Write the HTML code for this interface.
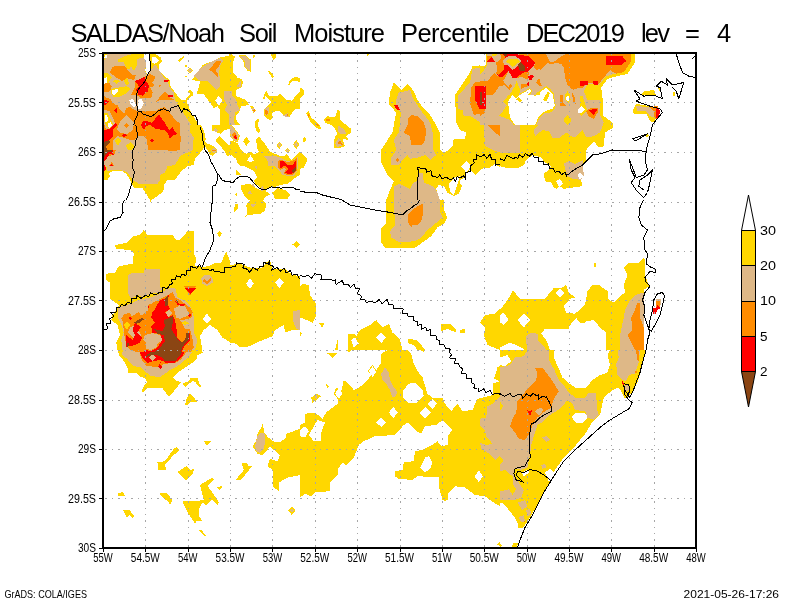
<!DOCTYPE html>
<html><head><meta charset="utf-8"><title>SALDAS/Noah Soil Moisture Percentile</title>
<style>html,body{margin:0;padding:0;background:#fff;overflow:hidden}body{width:800px;height:600px;position:relative;font-family:"Liberation Sans",sans-serif}</style></head>
<body>
<svg width="800" height="600" viewBox="0 0 800 600" style="position:absolute;left:0;top:0;will-change:transform">
<rect width="800" height="600" fill="#fff"/>
<defs><clipPath id="pc"><rect x="103" y="53" width="593" height="495"/></clipPath></defs>
<g clip-path="url(#pc)" shape-rendering="crispEdges">
<clipPath id="c0"><rect x="100" y="50" width="100" height="75"/></clipPath>
<g clip-path="url(#c0)">
</g>
<clipPath id="c1"><rect x="100" y="125" width="100" height="75"/></clipPath>
<g clip-path="url(#c1)">
</g>
<clipPath id="c2"><rect x="200" y="125" width="100" height="75"/></clipPath>
<g clip-path="url(#c2)">
</g>
<clipPath id="c3"><rect x="300" y="50" width="200" height="150"/></clipPath>
<g clip-path="url(#c3)">
</g>
<clipPath id="c4"><rect x="500" y="50" width="200" height="150"/></clipPath>
<g clip-path="url(#c4)">
</g>
<clipPath id="c5"><rect x="100" y="200" width="200" height="150"/></clipPath>
<g clip-path="url(#c5)">
</g>
<clipPath id="c6"><rect x="300" y="200" width="200" height="150"/></clipPath>
<g clip-path="url(#c6)">
</g>
<clipPath id="c7"><rect x="500" y="200" width="200" height="150"/></clipPath>
<g clip-path="url(#c7)">
</g>
<clipPath id="c8"><rect x="300" y="350" width="200" height="150"/></clipPath>
<g clip-path="url(#c8)">
</g>
<clipPath id="c9"><rect x="500" y="350" width="200" height="150"/></clipPath>
<g clip-path="url(#c9)">
</g>
<clipPath id="c10"><rect x="500" y="500" width="200" height="50"/></clipPath>
<g clip-path="url(#c10)">
</g>
<clipPath id="c11"><rect x="100" y="50" width="100" height="75"/></clipPath>
<g clip-path="url(#c11)">
<polygon fill="#ffd700" points="103.8,52.5 144.4,52.5 144.0,57.5 146.5,63.8 145.2,70.6 147.2,74.4 150.2,70.0 151.5,63.8 149.6,57.5 150.0,52.5 155.0,53.8 160.6,57.5 161.9,61.2 158.5,64.8 159.0,70.0 165.0,76.9 169.6,79.6 170.6,86.2 175.0,92.5 181.2,100.0 187.5,100.0 192.5,95.6 193.5,92.8 189.8,89.8 187.5,91.9 190.2,94.0 186.2,98.5 187.5,103.8 191.2,112.5 198.8,125.0 103.8,125.0"/>
<polygon fill="#ffffff" points="151.5,57.5 155.0,56.9 158.8,60.6 155.0,63.8 151.9,62.5"/>
<polygon fill="#deb887" points="107.5,53.8 133.1,53.8 143.8,57.5 146.2,63.8 145.0,71.2 147.2,75.0 150.6,70.6 155.0,63.8 165.0,78.8 168.1,80.0 168.8,86.2 173.8,92.5 175.0,100.0 181.2,110.0 191.2,125.0 103.8,125.0 103.8,61.2"/>
<polygon fill="#ffd700" points="133.1,53.8 143.8,53.8 143.4,57.5 137.5,59.0 136.5,66.2 134.0,71.2 131.2,66.2 129.4,68.8 126.5,68.8 124.0,62.5 118.8,62.1 117.2,60.0 125.0,56.2"/>
<polygon fill="#ffd700" points="103.8,72.5 107.5,73.1 111.9,76.9 108.8,82.5 103.8,85.0"/>
<polygon fill="#ffd700" points="113.1,81.2 116.2,79.4 120.0,81.2 116.2,83.8"/>
<polygon fill="#ffd700" points="123.8,81.2 126.9,78.1 129.4,83.8 126.9,85.6"/>
<polygon fill="#ffd700" points="111.2,88.8 118.8,87.5 126.9,86.2 130.6,88.8 126.9,93.1 118.8,96.9 113.8,97.5 110.6,92.5"/>
<polygon fill="#ffffff" points="111.9,90.0 117.5,89.0 118.8,91.2 114.4,95.6 112.5,93.8"/>
<polygon fill="#ffffff" points="104.4,78.1 106.9,76.9 106.9,82.5 104.4,83.8"/>
<polygon fill="#ffffff" points="104.4,57.5 105.6,55.0 107.5,55.6 106.2,58.8"/>
<polygon fill="#ff8c00" points="115.0,65.6 125.0,66.2 131.2,74.4 136.2,75.0 133.8,80.0 126.9,78.1 122.5,81.2 116.2,77.5 110.0,72.5 111.9,67.5"/>
<polygon fill="#ff8c00" points="150.0,73.8 155.6,76.9 152.5,82.5 154.4,86.2 150.0,87.5 152.5,92.5 151.2,98.1 141.2,98.1 137.5,95.6 131.2,95.0 135.0,87.5 135.0,81.2 144.4,76.9"/>
<polygon fill="#ff8c00" points="103.8,83.8 108.8,82.5 111.9,86.2 110.0,91.2 103.8,92.5"/>
<polygon fill="#ff8c00" points="103.8,97.5 110.0,98.8 116.2,106.2 117.5,115.0 125.0,116.2 128.8,110.0 135.0,108.8 137.5,115.0 133.8,125.0 103.8,125.0"/>
<polygon fill="#deb887" points="103.8,105.0 110.0,106.2 113.8,115.0 112.5,125.0 108.8,125.0 107.5,117.5 103.8,115.0"/>
<polygon fill="#ffd700" points="103.8,115.0 107.5,117.5 108.8,125.0 103.8,125.0"/>
<polygon fill="#ffffff" points="104.4,116.9 106.2,118.1 106.9,123.8 104.4,123.8"/>
<polygon fill="#ff8c00" points="158.8,85.0 161.2,85.6 158.8,86.9"/>
<polygon fill="#ff8c00" points="155.0,102.5 165.0,91.2 170.0,97.5 175.0,100.0 160.0,100.0"/>
<polygon fill="#deb887" points="126.9,98.8 136.2,98.8 143.8,105.0 137.5,111.2 132.5,108.8 128.8,106.2"/>
<polygon fill="#ffffff" points="129.4,100.0 132.5,98.8 136.2,105.0 133.8,107.5 130.0,103.8"/>
<polygon fill="#ffffff" points="137.5,100.0 141.2,98.8 143.8,103.8 140.6,109.4 138.1,108.8"/>
<polygon fill="#ff0000" points="135.0,81.2 144.4,76.9 145.6,80.6 148.8,85.0 148.1,91.2 142.5,95.6 138.1,95.0 137.5,91.2 135.6,90.0 138.8,86.2"/>
<polygon fill="#ff0000" points="163.8,80.0 169.4,80.6 168.1,81.9 164.4,81.9"/>
<polygon fill="#ff0000" points="167.5,95.0 173.8,95.6 173.1,96.9 168.1,96.5"/>
<polygon fill="#ff0000" points="103.8,100.0 108.8,100.0 106.9,104.4 103.8,105.0"/>
<polygon fill="#ff0000" points="113.8,110.0 116.2,106.9 116.9,112.5"/>
<polygon fill="#ff8c00" points="137.5,115.0 141.2,111.2 155.0,111.2 165.0,108.8 170.0,116.2 175.0,125.0 133.8,125.0"/>
<polygon fill="#ff0000" points="142.5,121.2 155.0,120.0 158.8,113.8 162.5,117.5 165.0,125.0 141.2,125.0"/>
<polygon fill="#ffd700" points="178.1,60.6 183.1,56.2 185.0,56.9 180.0,61.9"/>
<polygon fill="#ffd700" points="184.4,66.0 186.0,64.8 187.5,66.0 186.0,67.5"/>
<polygon fill="#ffd700" points="186.9,70.6 190.0,68.1 193.1,70.6 190.0,73.8"/>
<polygon fill="#deb887" points="188.1,70.6 190.0,69.0 191.9,70.6 190.0,72.5"/>
<polygon fill="#ffd700" points="185.0,76.2 186.9,76.0 186.2,77.2"/>
</g>
<clipPath id="c12"><rect x="150" y="50" width="150" height="75"/></clipPath>
<g clip-path="url(#c12)">
<polygon fill="#ffd700" points="191.2,80.0 195.0,76.9 202.5,65.0 212.5,61.2 220.0,57.5 228.8,55.6 229.4,53.8 231.2,53.8 235.0,56.9 232.8,62.5 232.8,72.5 237.5,77.5 241.2,78.8 243.1,82.5 241.2,87.5 236.2,90.0 236.2,96.2 246.2,100.0 249.0,105.0 241.2,106.2 239.0,112.5 236.2,115.0 236.2,120.0 240.0,125.0 220.0,125.0 220.0,110.0 217.5,106.2 212.5,108.8 212.5,106.2 203.8,94.4 196.2,94.4 198.8,87.5 200.0,81.2"/>
<polygon fill="#ffffff" points="215.0,100.6 218.8,95.6 222.5,100.6 218.8,105.6"/>
<polygon fill="#deb887" points="193.8,76.2 200.0,68.8 207.5,63.8 215.0,60.0 220.0,58.1 223.1,60.6 220.0,66.2 218.8,75.0 220.0,76.9 220.0,86.2 216.2,90.0 207.5,81.2 200.0,80.6"/>
<polygon fill="#ff8c00" points="208.8,70.0 216.2,61.2 221.2,61.2 218.8,66.2 215.6,70.6 218.8,75.0 217.5,76.9 212.5,71.9"/>
<polygon fill="#deb887" points="236.2,86.2 241.2,80.6 241.2,86.2 238.8,87.5"/>
<polygon fill="#deb887" points="224.4,91.2 231.9,91.2 232.5,96.2 236.2,100.0 237.5,105.0 240.0,110.0 235.0,112.5 233.8,120.0 235.0,125.0 229.4,125.0 229.4,115.0 224.4,110.0 226.9,105.0 224.4,100.0"/>
<polygon fill="#ffd700" points="237.5,55.6 245.0,55.0 250.6,59.4 250.6,71.9 247.5,70.6 244.4,66.9 243.8,61.9 240.0,57.5"/>
<polygon fill="#deb887" points="240.0,56.2 245.0,55.9 249.8,60.0 249.8,70.6 248.1,69.8 245.2,66.2 244.6,61.2"/>
<polygon fill="#ffd700" points="252.5,55.6 254.4,54.4 255.0,56.9 253.8,58.1"/>
<polygon fill="#ffd700" points="271.2,54.4 275.6,54.4 276.2,57.5 273.8,60.0 271.9,57.5"/>
<polygon fill="#ffd700" points="267.5,71.2 270.0,71.2 273.8,76.2 271.9,79.4 271.2,75.6"/>
<polygon fill="#ffd700" points="288.1,85.0 290.0,80.0 295.0,76.9 300.0,78.1 300.0,82.5 296.2,80.6 291.9,81.2 289.4,85.0"/>
<polygon fill="#ffd700" points="263.1,98.8 265.0,92.5 266.9,91.2 268.8,95.6 277.5,95.6 280.0,93.8 282.5,95.6 286.2,100.0 291.9,100.6 297.5,93.8 300.0,91.2 300.0,108.8 295.0,108.8 292.5,112.5 288.8,117.5 283.8,116.2 280.0,111.2 275.0,111.2 271.9,113.8 273.1,118.1 270.0,120.0 266.2,118.1 263.8,115.0 264.4,108.8 268.1,105.6 271.2,102.5 268.8,98.8 265.6,96.2 264.4,99.4"/>
<polygon fill="#deb887" points="265.0,108.8 268.1,106.2 269.4,107.5 268.1,115.0 265.6,115.6"/>
<polygon fill="#ff8c00" points="265.2,110.6 266.9,109.4 268.1,112.5 266.9,115.6 265.6,114.4"/>
<polygon fill="#deb887" points="283.1,115.6 287.5,113.1 288.8,116.9 286.2,117.5"/>
<polygon fill="#ff8c00" points="286.2,115.0 288.1,113.8 288.1,116.9"/>
<polygon fill="#ffd700" points="250.0,106.2 253.1,106.2 255.6,110.6 253.8,113.1 251.9,110.0"/>
<polygon fill="#deb887" points="251.2,107.5 253.1,107.5 255.0,110.6 253.8,112.5"/>
<polygon fill="#ff8c00" points="252.5,110.6 254.4,108.8 255.0,111.9"/>
<polygon fill="#ffd700" points="254.4,125.0 255.6,121.2 258.1,118.8 259.4,120.0 257.5,125.0"/>
</g>
<clipPath id="c13"><rect x="100" y="125" width="100" height="75"/></clipPath>
<g clip-path="url(#c13)">
<polygon fill="#ffd700" points="103.8,125.0 200.0,125.0 200.0,153.8 195.0,158.8 193.8,165.0 187.5,166.2 181.2,171.2 175.0,180.0 167.5,180.0 163.8,185.0 163.8,190.0 161.2,193.1 153.8,198.8 150.0,200.0 142.5,188.1 133.8,188.1 131.2,182.5 126.9,174.4 122.5,171.2 112.5,171.2 108.8,173.1 110.0,176.2 107.5,180.0 103.8,180.0"/>
<polygon fill="#deb887" points="103.8,125.0 190.0,125.0 190.0,132.5 193.8,137.5 192.5,150.0 187.5,152.5 180.0,156.2 175.0,165.0 167.5,166.2 165.0,172.5 160.0,175.0 160.0,180.0 157.5,183.8 138.8,183.8 132.5,180.0 128.8,173.8 123.8,170.6 112.5,170.0 107.5,171.2 106.2,166.2 103.8,166.2"/>
<polygon fill="#ff8c00" points="103.8,125.0 117.5,125.0 118.8,130.6 126.2,132.5 133.8,130.6 135.6,125.0 175.0,125.0 180.0,132.5 181.2,141.2 176.9,146.2 176.9,150.6 168.1,150.6 165.0,145.0 148.8,144.4 147.5,138.8 143.8,135.6 137.5,140.0 135.6,141.2 133.8,138.8 122.5,136.9 116.2,136.2 112.5,141.2 113.8,146.2 116.2,150.0 113.8,155.0 107.5,156.2 103.8,160.0"/>
<polygon fill="#ff0000" points="103.8,125.0 111.9,125.0 113.1,131.2 111.2,136.2 107.5,141.2 103.8,142.5"/>
<polygon fill="#ff0000" points="106.2,145.0 112.5,148.8 113.8,155.0 110.0,153.8 105.0,160.6 103.8,160.6 103.8,142.5"/>
<polygon fill="#8b4513" points="103.8,141.2 107.5,140.0 110.0,143.8 107.5,147.5 112.5,151.2 107.5,152.8 103.8,157.8"/>
<polygon fill="#ffffff" points="106.2,125.0 112.5,125.0 109.4,128.1"/>
<polygon fill="#ff0000" points="140.0,125.0 146.2,125.0 143.8,129.4"/>
<polygon fill="#ff0000" points="153.8,125.0 162.5,125.0 167.5,130.0 160.0,130.0"/>
<polygon fill="#ff0000" points="168.1,130.6 172.5,127.5 173.1,132.5 176.9,135.0 172.5,135.6 170.0,138.1 169.4,133.8"/>
<polygon fill="#ff0000" points="150.0,140.0 151.9,138.1 153.8,140.2 151.9,142.5"/>
<polygon fill="#ff0000" points="121.2,135.0 123.8,133.8 126.9,135.6 124.4,137.1"/>
<polygon fill="#ffd700" points="115.0,140.6 118.1,136.9 121.2,141.2 118.1,145.6"/>
<polygon fill="#ffd700" points="126.2,145.6 130.6,142.2 135.0,146.0 130.6,150.0"/>
<polygon fill="#ff8c00" points="108.8,165.6 111.9,161.9 114.4,166.2"/>
<polygon fill="#ff0000" points="109.4,165.6 111.9,164.0 113.8,166.0"/>
<polygon fill="#ff0000" points="104.4,165.0 106.2,168.1 105.0,171.2 103.8,170.0"/>
</g>
<clipPath id="c14"><rect x="200" y="125" width="100" height="75"/></clipPath>
<g clip-path="url(#c14)">
<polygon fill="#ffd700" points="200.0,123.8 203.8,130.0 205.6,138.8 205.0,146.2 202.5,150.0 200.0,151.9"/>
<polygon fill="#ffd700" points="211.9,125.0 240.0,125.0 230.0,125.6 230.0,128.8 225.0,130.0 221.2,133.8 217.5,132.5 212.5,130.6"/>
<polygon fill="#deb887" points="213.8,130.0 215.6,128.1 218.1,130.6 215.6,132.5"/>
<polygon fill="#ffd700" points="229.4,125.0 231.9,125.0 240.0,135.6 237.5,142.5 233.8,141.2 230.0,136.2"/>
<polygon fill="#ffd700" points="216.2,139.4 219.4,136.2 229.4,145.6 230.0,141.2 233.1,141.2 237.5,143.1 241.2,150.0 246.2,153.8 250.0,151.2 253.8,154.4 258.8,151.9 256.9,147.5 256.2,138.8 259.4,136.9 265.0,143.8 270.0,151.9 275.0,153.8 281.2,156.2 285.0,156.2 286.2,153.1 289.4,157.5 291.9,160.0 296.9,154.4 300.0,151.9 300.0,175.0 297.5,176.2 292.5,180.0 287.5,183.8 280.0,185.0 275.0,186.9 270.0,187.5 265.0,191.2 262.5,190.0 258.8,186.2 255.0,183.8 253.8,180.0 257.5,177.5 253.8,171.2 247.5,167.5 242.5,165.6 240.0,166.2 237.5,162.5 236.2,158.8 231.2,155.0 226.9,156.2 223.8,150.0 216.2,141.2"/>
<polygon fill="#ffffff" points="246.9,160.6 250.6,155.0 253.8,160.6 250.6,162.5"/>
<polygon fill="#deb887" points="255.0,166.2 257.2,165.6 257.2,169.4 255.6,168.8"/>
<polygon fill="#deb887" points="230.0,126.2 231.9,126.2 238.8,135.6 236.9,141.2 233.8,140.0 230.6,135.6"/>
<polygon fill="#ff8c00" points="231.9,134.4 234.4,131.9 237.5,136.2 236.9,140.6 233.1,137.5"/>
<polygon fill="#ff0000" points="233.8,136.9 235.6,135.0 236.9,138.1 236.2,140.0"/>
<polygon fill="#ffd700" points="202.5,137.5 206.2,143.1 213.8,146.2 217.5,150.6 212.5,155.6 210.0,154.4 205.0,146.2"/>
<polygon fill="#deb887" points="210.6,150.6 213.8,147.5 216.9,150.6 213.8,153.1"/>
<polygon fill="#ff8c00" points="211.9,150.4 215.6,149.8 215.6,151.2 211.9,151.5"/>
<polygon fill="#ffd700" points="243.1,141.2 246.2,136.9 250.0,141.2 246.2,146.2"/>
<polygon fill="#ffd700" points="254.4,125.0 257.5,125.0 260.0,130.0 258.8,133.8 256.2,130.6"/>
<polygon fill="#ffd700" points="236.2,170.0 241.2,175.0 236.2,175.0"/>
<polygon fill="#ffd700" points="235.0,194.4 236.2,193.1 237.5,194.4 236.2,196.2"/>
<polygon fill="#ffd700" points="276.2,145.0 279.4,141.9 282.5,145.0 279.4,148.8"/>
<polygon fill="#deb887" points="277.5,145.0 279.4,143.1 281.2,145.0 279.4,147.2"/>
<polygon fill="#ffd700" points="293.1,144.4 296.2,140.0 299.4,144.4 296.2,149.4"/>
<polygon fill="#deb887" points="294.4,144.4 296.2,141.9 298.1,144.4 296.2,147.5"/>
<polygon fill="#ffd700" points="285.0,150.6 287.5,147.5 290.0,150.6 287.5,153.1"/>
<polygon fill="#deb887" points="286.2,150.6 287.5,149.0 288.8,150.6 287.5,151.9"/>
<polygon fill="#deb887" points="263.1,155.6 275.0,155.6 281.2,158.1 287.5,161.2 292.5,161.2 297.5,156.9 298.1,166.2 296.9,171.9 293.1,176.2 286.2,175.6 281.9,174.4 278.8,170.0 275.0,166.2 268.1,166.2 267.5,160.6"/>
<polygon fill="#ff8c00" points="278.1,161.2 280.0,159.4 287.5,161.9 292.5,161.2 296.9,157.8 297.5,166.2 296.2,171.9 292.5,175.0 286.2,174.8 283.8,173.1 286.2,169.4 283.8,167.5 280.6,170.0 278.1,167.5"/>
<polygon fill="#ff0000" points="280.0,160.6 282.5,160.6 287.5,165.0 292.5,165.0 296.2,160.0 296.2,167.5 291.9,173.8 287.5,173.8 285.0,172.5 288.1,168.8 286.2,166.2 283.8,166.2 281.2,168.8 280.0,166.9"/>
<polygon fill="#8b4513" points="291.9,171.2 295.6,166.9 296.2,170.0 293.1,173.1"/>
<polygon fill="#ffd700" points="241.2,185.0 250.0,183.8 255.0,187.5 260.0,190.0 265.0,190.6 270.0,194.4 265.0,196.9 263.8,200.0 248.8,200.0 243.8,195.0 241.2,188.8"/>
<polygon fill="#deb887" points="246.9,194.4 250.0,190.0 252.5,194.4"/>
<polygon fill="#deb887" points="251.2,185.0 253.8,183.8 255.0,187.5"/>
<polygon fill="#deb887" points="260.0,188.8 262.5,186.2 264.4,190.0 261.9,191.2"/>
<polygon fill="#ffd700" points="272.5,192.5 277.5,188.1 285.0,190.0 290.0,195.0 287.5,198.8 275.0,198.8"/>
</g>
<clipPath id="c15"><rect x="100" y="90" width="80" height="60"/></clipPath>
<g clip-path="url(#c15)">
<polygon fill="#ff8c00" points="104.0,96.0 108.0,99.0 110.0,104.0 113.0,107.0 117.5,105.0 120.0,110.0 124.0,114.0 126.5,108.0 130.0,107.0 133.0,110.0 138.0,111.5 142.0,111.5 147.0,114.5 152.0,117.0 157.0,110.0 164.0,107.0 169.0,111.5 175.0,120.0 180.0,123.0 180.0,150.0 104.0,150.0"/>
<polygon fill="#deb887" points="104.0,109.5 110.0,111.5 114.0,120.0 115.0,123.0 112.0,130.0 106.0,129.0 104.0,124.0"/>
<polygon fill="#ffd700" points="104.0,112.5 108.0,113.5 111.0,120.0 113.0,124.0 110.0,129.0 107.0,127.0 104.0,120.0"/>
<polygon fill="#ffffff" points="104.5,115.0 107.0,115.0 108.5,120.0 106.0,123.0 104.5,121.0"/>
<polygon fill="#ffffff" points="108.0,123.0 111.0,122.0 112.0,125.0 109.5,128.0 108.0,126.0"/>
<polygon fill="#deb887" points="126.5,115.0 134.0,122.0 133.0,130.0 127.0,134.0 120.0,133.0 117.0,129.0 120.0,122.0"/>
<polygon fill="#ff8c00" points="124.5,125.5 126.5,123.0 129.0,125.5 126.5,128.0"/>
<polygon fill="#deb887" points="113.0,140.0 117.5,136.0 125.0,138.0 130.0,140.0 135.0,140.0 138.5,136.0 143.0,136.0 147.0,140.0 148.0,150.0 113.0,150.0"/>
<polygon fill="#ffd700" points="115.0,141.0 118.0,137.0 121.0,141.0 118.0,146.0"/>
<polygon fill="#ffd700" points="126.0,145.5 130.5,142.0 135.0,146.0 132.0,150.0 128.0,150.0"/>
<polygon fill="#ff0000" points="121.5,135.0 125.0,134.0 127.0,136.0 123.0,137.0"/>
<polygon fill="#ff0000" points="104.0,100.0 109.0,101.0 106.0,105.0 104.0,105.0"/>
<polygon fill="#ff0000" points="114.0,110.0 117.0,107.0 117.0,114.0"/>
<polygon fill="#ff0000" points="104.0,130.0 110.0,129.0 115.0,123.0 117.0,125.0 113.0,130.0 113.0,136.0 110.0,140.0 104.0,142.0"/>
<polygon fill="#8b4513" points="104.0,142.0 109.0,140.0 110.0,142.0 106.0,146.0 107.0,150.0 104.0,150.0"/>
<polygon fill="#ff0000" points="140.5,125.0 143.0,121.5 147.0,121.0 152.0,123.0 159.0,114.0 162.0,119.0 165.0,123.0 169.0,130.0 173.0,127.0 174.0,131.0 177.0,134.0 172.0,136.0 170.0,139.0 168.0,134.0 164.0,130.0 156.0,129.0 150.0,125.0 146.0,126.0 144.0,129.5"/>
<polygon fill="#ff0000" points="150.0,140.5 152.0,138.0 154.0,140.5 152.0,143.0"/>
</g>
<clipPath id="c16"><rect x="300" y="50" width="200" height="150"/></clipPath>
<g clip-path="url(#c16)">
<polygon fill="#ffd700" points="300.0,87.5 303.8,90.0 303.8,95.0 300.0,98.8"/>
<polygon fill="#ffd700" points="300.0,151.2 305.0,156.2 307.5,160.0 303.8,167.5 300.0,168.8"/>
<polygon fill="#ffd700" points="302.5,138.8 305.0,136.2 306.2,140.0 303.8,142.5"/>
<polygon fill="#ffd700" points="365.0,53.0 371.2,53.0 367.5,55.5"/>
<polygon fill="#ffd700" points="306.2,113.8 308.8,111.2 311.2,117.5 320.0,125.0 321.2,129.5 316.2,128.0 310.0,121.2"/>
<polygon fill="#ff8c00" points="307.5,114.5 309.0,113.0 310.0,116.2 308.2,117.0"/>
<polygon fill="#ff8c00" points="316.2,124.5 318.0,123.8 318.8,126.2 317.0,126.2"/>
<polygon fill="#ffd700" points="323.8,120.0 327.5,116.2 335.0,117.5 337.5,110.0 340.0,111.2 340.0,120.0 346.2,125.0 351.2,128.8 351.2,132.5 346.2,136.2 348.8,140.0 342.5,138.8 345.0,146.2 341.2,147.5 333.8,148.0 333.8,142.5 335.0,136.2 337.5,133.8 335.0,128.8 331.2,125.0 325.0,122.5"/>
<polygon fill="#deb887" points="337.5,125.0 345.0,130.0 346.2,133.8 340.0,133.8 337.5,130.0"/>
<polygon fill="#deb887" points="335.0,143.8 338.8,137.5 343.8,145.0 337.5,147.0"/>
<polygon fill="#ff8c00" points="337.5,143.8 340.0,140.5 343.0,145.0"/>
<polygon fill="#ff8c00" points="326.2,119.5 329.5,118.8 329.5,120.5 326.2,121.0"/>
<polygon fill="#ffd700" points="393.8,82.5 401.2,90.0 407.5,83.8 413.8,91.2 417.5,100.0 423.8,108.8 430.0,115.0 436.2,125.0 440.0,132.5 440.0,150.0 443.8,153.8 452.5,146.2 453.8,138.8 465.0,138.8 466.2,132.5 460.0,130.0 456.2,122.5 455.0,95.0 470.0,72.5 472.5,66.2 483.8,65.0 486.2,53.8 500.0,53.8 500.0,167.5 495.0,163.8 490.0,167.5 483.8,167.5 475.0,175.0 470.0,170.0 466.2,173.8 465.0,177.5 460.0,180.0 460.0,183.8 462.5,185.0 458.8,193.8 453.8,196.2 447.5,192.5 443.8,186.2 438.8,185.0 436.2,188.8 440.0,200.0 386.2,200.0 390.0,190.0 393.8,181.2 387.5,175.0 381.2,162.5 381.2,150.0 387.5,140.0 392.5,132.5 393.8,125.0 396.2,112.5 388.8,103.8 390.0,92.5"/>
<polygon fill="#ffffff" points="461.2,166.2 466.2,161.2 471.2,166.2 466.2,172.5"/>
<polygon fill="#ffffff" points="448.8,183.8 455.0,177.5 460.0,176.2 457.0,185.0 453.8,195.0 450.0,191.2"/>
<polygon fill="#deb887" points="398.8,92.5 405.0,91.2 410.0,90.0 413.8,100.0 422.5,112.5 430.0,122.5 432.5,132.5 432.5,147.5 436.2,155.0 430.0,160.0 425.0,155.0 417.5,157.5 410.0,158.8 407.5,155.0 402.5,160.0 398.8,165.0 391.2,165.0 391.2,157.5 396.2,150.0 393.8,140.0 398.8,132.5 400.0,122.5 401.2,111.2 395.0,108.8 396.2,100.0"/>
<polygon fill="#ff8c00" points="411.2,115.0 417.5,116.2 423.8,122.5 426.2,130.0 425.0,140.0 422.5,144.5 411.2,144.5 410.0,136.2 403.8,132.5 407.5,125.0 407.5,118.8"/>
<polygon fill="#ff0000" points="393.8,105.5 397.5,104.5 400.0,110.0 397.5,110.0"/>
<polygon fill="#ff8c00" points="395.0,160.0 397.0,158.0 399.0,160.0 397.0,162.0"/>
<polygon fill="#deb887" points="393.8,186.2 400.0,183.8 410.0,188.8 412.5,183.8 417.5,180.0 417.5,172.5 422.5,172.5 423.8,182.5 432.5,186.2 436.2,190.0 440.0,200.0 393.8,200.0"/>
<polygon fill="#deb887" points="457.5,96.2 470.0,82.5 472.5,68.8 483.8,67.5 486.2,56.2 500.0,56.2 500.0,152.5 492.5,150.0 485.0,146.2 483.8,125.0 475.0,118.8 470.0,116.2 463.8,116.2 462.5,110.0 457.5,108.8"/>
<polygon fill="#ff8c00" points="470.0,103.8 471.2,87.5 475.0,82.5 486.2,81.2 487.5,70.0 492.5,61.2 500.0,67.5 500.0,136.2 495.0,132.5 487.5,125.0 485.0,117.5 478.8,113.8 473.8,115.0"/>
<polygon fill="#ff0000" points="475.0,86.2 486.2,86.2 486.2,113.8 480.0,110.0 475.0,100.0"/>
<polygon fill="#8b4513" points="479.5,93.8 483.8,92.5 483.8,106.2 480.0,105.0"/>
<polygon fill="#ff0000" points="487.0,61.2 491.2,57.0 495.0,62.0"/>
<polygon fill="#ff0000" points="496.2,73.8 500.0,71.2 500.0,77.5"/>
</g>
<clipPath id="c17"><rect x="500" y="50" width="200" height="150"/></clipPath>
<g clip-path="url(#c17)">
<polygon fill="#ffd700" points="500.0,53.8 635.0,53.8 635.0,62.5 627.5,73.8 617.5,76.2 607.5,78.8 601.2,87.5 602.5,97.5 602.5,115.0 612.5,122.5 612.5,128.0 605.0,132.5 603.8,146.2 598.8,147.5 593.8,141.2 586.2,150.0 586.2,160.0 582.5,165.0 583.8,175.0 581.2,180.0 582.5,186.2 563.8,188.8 560.0,186.2 556.2,188.8 553.8,187.5 551.2,182.5 545.0,181.2 543.8,173.8 548.8,170.0 551.2,166.2 545.0,162.5 541.2,157.5 532.5,155.0 526.2,160.0 523.8,165.0 518.8,167.5 505.0,167.5 500.0,166.2"/>
<polygon fill="#deb887" points="500.0,53.8 631.2,53.8 631.2,61.2 623.8,72.0 615.0,73.8 606.2,76.2 598.8,85.0 587.5,83.8 583.8,91.2 587.5,100.0 600.0,100.0 600.0,115.0 603.8,122.5 600.0,132.5 593.8,136.2 586.2,137.5 582.5,130.0 575.0,137.5 571.2,136.2 566.2,132.5 560.0,137.5 552.5,137.5 548.8,131.2 542.5,130.0 535.0,136.2 520.0,137.5 520.0,152.5 500.0,152.5"/>
<polygon fill="#ffd700" points="500.0,108.8 505.0,100.0 511.2,93.8 515.0,87.5 525.0,86.2 530.0,90.0 532.5,87.5 537.5,92.5 543.8,87.5 552.5,90.0 556.2,100.0 555.0,111.2 547.5,117.5 540.0,122.5 533.8,130.0 535.0,137.5 520.0,137.5 520.0,125.0 515.0,122.5 508.8,113.8 500.0,117.5"/>
<polygon fill="#ffffff" points="507.5,98.8 515.0,92.5 525.0,90.0 528.8,93.8 532.5,91.2 537.5,96.2 543.8,90.0 551.2,92.5 553.8,100.0 552.5,110.0 546.2,115.0 537.5,121.2 530.0,125.0 517.5,125.0 512.5,115.0 507.5,108.8"/>
<polygon fill="#ff8c00" points="560.0,53.8 631.2,53.8 631.2,61.2 623.8,72.0 616.2,73.8 610.0,70.0 605.0,76.2 598.8,83.8 587.5,82.5 582.5,87.5 572.5,87.5 567.5,80.0 563.8,65.0"/>
<polygon fill="#ff0000" points="606.2,56.2 622.5,56.2 626.2,61.2 621.2,65.0 606.2,65.0"/>
<polygon fill="#ff0000" points="580.0,81.2 587.5,81.2 587.5,85.0 580.0,86.2"/>
<polygon fill="#ff0000" points="592.5,81.2 597.5,81.2 597.5,85.0 593.8,85.0"/>
<polygon fill="#ff8c00" points="560.0,95.0 562.5,95.0 563.0,103.8 560.0,103.8"/>
<polygon fill="#ff8c00" points="571.2,92.5 575.0,93.8 575.0,101.2 572.0,100.0"/>
<polygon fill="#ffd700" points="564.5,97.5 568.0,91.2 571.5,98.8 568.0,103.8"/>
<polygon fill="#ffffff" points="566.0,97.5 568.0,93.8 570.0,98.8 568.0,102.0"/>
<polygon fill="#ffd700" points="575.0,110.0 578.8,103.8 578.8,95.0 582.5,96.2 585.0,103.8 587.5,110.0 581.2,116.2"/>
<polygon fill="#ffffff" points="577.5,110.0 581.2,106.2 585.0,110.0 581.2,113.8"/>
<polygon fill="#ff8c00" points="586.2,111.2 591.2,107.5 597.5,108.0 597.5,112.5 593.8,118.8 588.8,116.2"/>
<polygon fill="#ff0000" points="588.8,110.0 597.5,108.8 593.8,115.5"/>
<polygon fill="#ffd700" points="562.5,120.0 567.0,115.0 571.2,120.0 567.0,125.0"/>
<polygon fill="#ffd700" points="641.2,95.0 643.8,91.2 653.8,90.0 656.2,95.0"/>
<polygon fill="#ffd700" points="632.5,111.2 636.2,103.8 650.0,106.2 653.8,107.5 656.2,115.0 655.0,121.2 651.2,122.5 646.2,113.8 633.8,113.8"/>
<polygon fill="#deb887" points="636.2,106.2 650.0,107.0 653.8,111.2 653.8,117.5 650.0,116.2 646.2,111.2 637.0,111.2"/>
<polygon fill="#ff8c00" points="649.5,107.0 657.5,106.2 660.0,111.2 656.2,120.0 653.8,117.5 653.8,111.2"/>
<polygon fill="#ff0000" points="655.5,108.8 658.8,107.5 660.0,112.5 657.0,120.0 655.5,115.0"/>
<polygon fill="#ffd700" points="644.5,135.0 647.5,133.0 648.8,136.2 646.2,137.5"/>
<polygon fill="#ffd700" points="672.5,91.2 675.0,92.5 674.5,96.2 672.5,95.0"/>
<polygon fill="#ffd700" points="657.5,86.2 660.0,87.5 659.5,91.2"/>
<polygon fill="#deb887" points="563.8,163.8 568.8,161.2 575.0,163.8 582.5,160.0 583.8,175.0 581.2,180.0 572.5,178.8 567.5,176.2"/>
<polygon fill="#ffffff" points="556.2,181.2 560.0,178.8 563.0,183.8 559.5,187.5"/>
<polygon fill="#ffffff" points="577.5,175.0 580.5,172.5 583.0,176.2 580.0,179.5"/>
</g>
<clipPath id="c18"><rect x="480" y="50" width="100" height="75"/></clipPath>
<g clip-path="url(#c18)">
<polygon fill="#ffd700" points="480.0,65.6 485.0,65.6 486.9,53.8 487.5,68.8 482.5,73.8 480.0,75.6"/>
<polygon fill="#deb887" points="486.2,53.8 580.0,53.8 580.0,125.0 480.0,125.0 480.0,75.0 482.5,73.1 486.2,68.8"/>
<polygon fill="#ff8c00" points="535.0,53.8 545.6,53.8 550.0,61.9 553.8,61.9 562.5,55.6 566.2,54.0 580.0,54.0 580.0,87.5 573.1,90.0 567.5,85.0 565.0,77.5 563.8,67.5 561.2,63.8 555.0,63.1 551.2,64.4 547.5,62.5 540.0,70.0 535.0,68.8 532.5,65.0 535.0,60.0"/>
<polygon fill="#ff8c00" points="480.0,81.2 486.2,80.0 495.0,75.0 497.5,76.9 503.8,76.9 506.9,72.5 510.0,75.0 513.8,77.5 517.5,76.9 520.0,73.1 528.1,72.5 530.0,75.0 528.1,80.0 527.5,86.2 521.2,87.5 521.2,83.8 516.2,80.0 511.2,81.2 508.8,86.2 505.0,87.5 498.8,86.2 493.8,92.5 491.2,95.0 485.0,86.2 480.0,86.2"/>
<polygon fill="#ff8c00" points="486.9,55.6 502.5,54.4 505.0,58.8 506.9,63.8 503.1,65.0 497.5,76.9 495.0,75.0 496.2,65.0 495.0,61.9 486.9,62.5"/>
<polygon fill="#ff0000" points="487.5,61.9 491.2,56.9 495.0,61.9"/>
<polygon fill="#ff0000" points="502.5,54.4 528.8,54.4 535.6,62.5 529.4,66.2 527.5,70.6 520.0,73.1 518.1,76.9 513.8,77.5 510.0,71.9 505.0,76.9 496.2,76.9 496.2,73.8 503.1,72.5 504.4,65.0 506.9,63.1 512.5,67.5 518.8,61.9 521.2,60.0 516.2,57.5 508.8,57.5 505.0,60.6"/>
<polygon fill="#ffd700" points="505.6,61.2 509.4,59.0 516.9,59.0 520.0,61.9 513.1,67.2"/>
<polygon fill="#8b4513" points="517.5,66.2 521.2,62.5 525.0,65.6 525.0,70.6 520.0,70.6"/>
<polygon fill="#8b4513" points="503.8,54.4 506.9,54.4 506.2,56.0 504.4,56.0"/>
<polygon fill="#ff0000" points="528.1,76.2 531.2,74.4 534.4,75.6 530.6,80.0 528.8,79.4"/>
<polygon fill="#ff0000" points="527.5,80.0 529.0,80.0 528.8,86.2 527.5,86.2"/>
<polygon fill="#ff8c00" points="536.2,79.4 538.1,79.4 542.5,86.2 536.9,86.2"/>
<polygon fill="#ff8c00" points="521.2,83.8 527.5,83.8 528.1,87.5 523.8,90.0 521.2,88.8"/>
<polygon fill="#ff0000" points="480.0,86.2 485.6,86.2 485.6,108.8 480.0,110.0"/>
<polygon fill="#8b4513" points="480.0,92.5 481.9,92.5 481.9,105.0 480.0,105.6"/>
<polygon fill="#ff8c00" points="480.0,109.4 485.6,108.8 485.0,112.5 480.0,116.2"/>
<polygon fill="#ffd700" points="516.2,81.2 518.8,86.2 521.2,91.2 525.0,90.0 530.0,88.1 532.5,91.2 535.0,93.1 538.8,91.2 546.2,86.2 550.0,88.8 553.8,93.8 555.0,102.5 556.2,105.0 553.8,110.0 550.0,112.5 545.0,112.5 540.0,117.5 536.2,125.0 513.8,125.0 510.0,120.0 505.0,118.1 499.4,115.6 503.8,110.0 506.9,105.0 503.1,101.2 510.0,93.8 513.8,87.5"/>
<polygon fill="#ffffff" points="508.1,101.2 512.5,95.0 516.2,98.8 521.2,93.8 530.0,88.8 531.9,90.0 531.2,93.8 535.6,96.2 538.8,93.1 546.2,87.5 549.4,90.6 553.1,95.0 553.8,102.5 555.0,105.0 552.5,108.8 545.0,111.2 538.8,116.2 535.0,125.0 515.0,125.0 510.0,117.5 508.8,108.8"/>
<polygon fill="#ffd700" points="543.1,99.4 547.5,91.9 550.0,93.1 546.2,101.9"/>
<polygon fill="#ffd700" points="516.2,99.4 518.8,96.9 521.9,100.6 520.0,101.9"/>
<polygon fill="#ffd700" points="565.0,95.0 567.5,91.2 570.0,95.0 570.6,100.0 568.1,103.1 565.6,100.6"/>
<polygon fill="#ffffff" points="566.2,97.5 568.1,95.0 569.8,98.8 568.1,101.9 566.5,100.0"/>
<polygon fill="#ff8c00" points="560.0,95.0 563.1,95.0 563.1,102.5 566.2,105.6 560.0,105.6"/>
<polygon fill="#ff8c00" points="571.9,91.9 575.0,97.5 575.6,103.8 573.1,102.5"/>
<polygon fill="#ffffff" points="577.5,108.8 580.0,108.1 580.0,113.8 578.1,112.5"/>
<polygon fill="#ffd700" points="563.1,120.0 567.5,115.0 571.9,120.0 567.5,125.0"/>
</g>
<clipPath id="c19"><rect x="480" y="50" width="60" height="45"/></clipPath>
<g clip-path="url(#c19)">
<polygon fill="#deb887" points="480.0,53.0 540.0,53.0 540.0,95.0 480.0,95.0"/>
<polygon fill="#ffffff" points="480.0,53.0 486.4,53.0 486.0,65.0 483.8,66.1 480.0,66.1"/>
<polygon fill="#ffd700" points="486.0,54.1 487.1,54.1 487.1,65.0 484.5,69.5 480.0,74.8 480.0,66.1 483.8,66.1 486.0,65.0"/>
<polygon fill="#ffd700" points="491.3,54.1 497.3,54.1 496.1,55.9 492.4,55.9"/>
<polygon fill="#ff8c00" points="487.1,56.4 491.3,56.0 495.4,62.0 487.1,62.4"/>
<polygon fill="#ff8c00" points="480.0,81.5 487.5,80.8 495.0,72.5 496.1,74.8 499.5,77.0 504.0,74.8 508.5,71.0 504.8,78.5 502.9,80.8 508.5,86.8 510.8,83.8 512.3,86.0 509.3,89.8 504.8,85.3 499.5,86.0 493.5,94.3 492.8,95.0 486.0,95.0 486.0,86.0 480.0,86.0"/>
<polygon fill="#ff8c00" points="500.3,54.1 504.8,54.1 504.0,56.0 505.5,57.5 502.5,61.3 504.8,65.0 504.0,69.5 498.8,74.8 496.1,73.3 497.3,68.8 496.1,62.8 501.4,58.3"/>
<polygon fill="#ff8c00" points="516.8,54.1 540.0,54.1 540.0,68.8 536.3,70.3 533.3,67.3 535.5,62.8 528.8,56.4"/>
<polygon fill="#ff8c00" points="537.0,80.0 540.0,78.5 540.0,86.0 536.3,83.0"/>
<polygon fill="#ff8c00" points="519.0,75.5 525.0,71.8 529.5,72.5 528.0,75.5 528.0,80.0 522.0,77.0 516.0,78.1"/>
<polygon fill="#ff8c00" points="520.9,84.1 528.0,83.8 528.0,86.0 523.5,87.5 520.9,89.8"/>
<polygon fill="#ff0000" points="504.0,54.1 516.0,54.1 528.8,56.4 535.5,62.8 532.5,67.3 528.0,71.8 525.0,71.8 519.0,75.5 516.0,78.1 512.3,77.8 510.0,73.3 508.5,71.0 502.5,76.6 498.8,76.6 496.1,73.3 498.8,74.8 504.0,69.5 504.0,65.0 507.8,65.0 512.3,70.3 517.5,66.1 520.9,61.6 517.5,57.5 516.0,56.4 508.5,56.4 505.5,57.5 502.5,54.5"/>
<polygon fill="#deb887" points="504.8,61.3 508.5,57.9 517.9,57.9 521.6,61.3 515.3,67.3 512.6,69.9 510.0,67.3"/>
<polygon fill="#ffd700" points="505.9,61.3 508.9,59.0 517.5,59.0 520.5,61.3 512.6,66.9"/>
<polygon fill="#8b4513" points="517.5,65.0 520.9,62.0 525.0,66.1 525.0,70.6 519.8,70.6"/>
<polygon fill="#8b4513" points="504.0,54.1 507.0,54.1 506.6,55.9 504.4,55.9"/>
<polygon fill="#ff0000" points="487.1,62.0 491.3,56.8 495.0,62.0"/>
<polygon fill="#ff0000" points="528.0,76.3 531.0,74.8 534.0,75.9 531.8,79.6 528.8,79.6"/>
<polygon fill="#ff0000" points="526.9,83.0 529.1,82.3 528.8,85.6 527.3,85.3"/>
<polygon fill="#deb887" points="503.3,80.8 508.1,71.8 512.3,77.8 515.3,79.3 515.3,81.5 510.8,83.8 508.5,86.8"/>
<polygon fill="#ffd700" points="511.5,92.0 515.3,85.3 516.4,80.8 518.3,85.3 520.5,90.5 519.0,95.0 509.3,95.0"/>
<polygon fill="#ffd700" points="519.0,94.3 524.3,91.3 529.5,87.9 532.5,90.9 529.5,95.0"/>
<polygon fill="#ffffff" points="519.8,95.0 525.0,92.0 529.5,89.0 531.4,90.9 528.0,95.0"/>
<polygon fill="#ffd700" points="535.5,95.0 537.0,92.0 540.0,91.3 540.0,95.0"/>
<polygon fill="#ff0000" points="480.0,86.4 485.6,86.4 486.0,95.0 480.0,95.0"/>
<polygon fill="#8b4513" points="480.0,92.0 481.9,92.0 481.9,95.0 480.0,95.0"/>
</g>
<clipPath id="c20"><rect x="100" y="200" width="200" height="150"/></clipPath>
<g clip-path="url(#c20)">
<polygon fill="#ffd700" points="235.0,203.8 237.5,203.8 237.5,208.8 233.8,212.5"/>
<polygon fill="#ffd700" points="242.5,218.8 247.5,213.8 246.2,205.0 250.0,200.0 262.5,200.0 266.2,203.8 265.0,211.2 260.0,213.8 247.5,215.0"/>
<polygon fill="#deb887" points="250.0,203.8 256.2,203.8 253.0,207.5"/>
<polygon fill="#ffd700" points="149.5,200.0 151.5,200.0 151.0,202.5"/>
<polygon fill="#ffd700" points="217.0,233.8 219.5,230.5 222.0,233.8 219.5,237.0"/>
<polygon fill="#ffd700" points="292.5,244.5 296.2,241.2 300.0,244.5 296.2,248.0"/>
<polygon fill="#ffd700" points="115.0,245.0 127.5,242.5 133.8,236.2 140.0,235.0 143.8,230.0 147.5,235.0 172.5,235.0 176.2,240.0 180.0,240.0 187.5,231.2 193.8,231.2 193.8,253.8 196.2,258.8 195.0,265.5 203.8,267.0 210.0,265.5 216.2,262.5 221.2,262.5 226.2,251.2 230.0,261.2 230.0,265.0 240.0,263.8 250.0,267.5 262.5,267.5 266.2,262.5 270.0,260.0 272.5,268.8 285.0,268.8 292.5,275.0 300.0,276.2 300.0,330.0 292.5,330.0 285.0,332.5 283.8,325.0 275.0,330.0 272.5,336.2 260.0,341.2 250.0,346.2 240.0,347.5 236.2,343.8 230.0,342.5 222.5,337.5 217.5,330.0 210.0,325.0 203.8,330.0 200.0,336.2 202.5,350.0 117.5,350.0 116.2,342.5 120.0,335.0 117.5,325.0 111.2,320.0 112.5,315.0 116.2,310.0 118.8,305.0 110.0,298.8 110.0,282.5 106.2,280.0 106.2,273.8 115.0,272.5 118.8,266.2 132.5,263.8 133.8,253.8 130.0,250.0 116.2,248.8"/>
<polygon fill="#ffffff" points="246.2,283.8 250.0,278.0 253.8,283.8 250.0,288.8"/>
<polygon fill="#ffffff" points="275.0,282.5 279.5,277.5 283.8,282.5 279.5,288.0"/>
<polygon fill="#ffffff" points="202.5,318.8 207.0,313.8 211.2,318.8 207.0,323.8"/>
<polygon fill="#deb887" points="127.5,275.0 132.5,272.5 143.8,272.5 145.0,268.8 160.0,268.8 160.0,286.2 162.5,288.8 158.8,292.5 150.0,293.8 142.5,297.5 137.5,295.0 131.2,298.8 127.5,292.5"/>
<polygon fill="#deb887" points="201.2,278.8 205.0,275.0 210.0,275.0 212.5,278.8 212.5,282.5 207.5,286.2 202.5,283.8"/>
<polygon fill="#ff8c00" points="203.8,278.8 207.0,281.2 210.5,278.0 211.2,280.5 207.0,284.2 203.0,281.2"/>
<polygon fill="#ff8c00" points="183.8,286.2 196.2,286.2 190.0,295.5"/>
<polygon fill="#ff0000" points="185.0,287.5 195.0,287.5 190.0,293.8"/>
<polygon fill="#deb887" points="292.5,311.2 300.0,310.0 300.0,330.0 296.2,328.8 292.5,320.0"/>
<polygon fill="#deb887" points="117.5,307.5 130.0,303.8 137.5,300.0 150.0,297.5 160.0,293.8 167.5,288.8 175.0,287.5 177.5,297.5 186.2,301.2 191.2,307.5 193.8,317.5 193.8,332.5 197.5,340.0 195.0,350.0 122.5,350.0 121.2,340.0 123.8,332.5 121.2,323.8 117.5,317.5"/>
</g>
<clipPath id="c21"><rect x="300" y="200" width="200" height="150"/></clipPath>
<g clip-path="url(#c21)">
<polygon fill="#ffd700" points="386.2,200.0 443.8,200.0 443.8,210.0 447.5,217.5 443.8,223.8 437.5,227.5 431.2,236.2 422.5,242.5 415.0,247.5 385.0,247.5 381.2,242.5 381.2,228.8 386.2,223.8"/>
<polygon fill="#deb887" points="393.8,200.0 440.0,200.0 440.0,212.5 442.5,217.5 435.0,223.8 427.5,230.0 420.0,238.8 413.8,241.2 400.0,242.5 391.2,237.5 390.0,231.2 395.0,225.0"/>
<polygon fill="#ff8c00" points="407.5,215.0 412.5,210.0 417.5,206.2 422.5,203.8 423.0,213.8 421.2,221.2 417.5,225.0 412.0,225.0 411.2,227.5 407.5,221.2"/>
<polygon fill="#ffd700" points="300.0,286.2 302.5,283.8 308.8,285.0 310.0,295.0 316.2,303.8 316.2,316.2 312.5,322.5 300.0,317.5"/>
<polygon fill="#ffd700" points="318.8,322.5 325.0,322.5 322.0,327.5"/>
<polygon fill="#ffd700" points="300.0,331.2 302.0,333.8 300.0,336.2"/>
<polygon fill="#ffd700" points="347.5,333.8 353.8,333.8 356.2,336.2 360.0,330.0 370.0,325.0 376.2,320.0 382.5,327.5 388.8,323.8 392.5,332.5 400.0,340.0 402.5,350.0 347.5,350.0"/>
<polygon fill="#ffffff" points="376.2,337.5 381.2,332.5 386.2,337.5 381.2,343.0"/>
<polygon fill="#ffffff" points="351.2,340.0 355.0,337.5 358.8,343.8 353.8,347.5"/>
<polygon fill="#ffd700" points="337.5,340.0 337.5,350.0 335.0,350.0"/>
<polygon fill="#ffd700" points="407.5,338.8 416.2,340.0 421.2,345.0 425.0,350.0 417.5,350.0 413.8,345.0 408.8,343.8"/>
<polygon fill="#ffd700" points="441.2,323.8 450.0,323.8 456.2,330.0 456.2,332.5 447.5,328.8 441.2,331.2"/>
<polygon fill="#ffd700" points="460.0,330.0 465.0,328.8 465.0,332.5 460.0,332.5"/>
<polygon fill="#ffd700" points="480.0,322.5 485.0,315.0 495.0,313.8 500.0,308.8 500.0,350.0 487.5,345.0 483.8,335.0 485.0,327.5"/>
</g>
<clipPath id="c22"><rect x="500" y="200" width="200" height="150"/></clipPath>
<g clip-path="url(#c22)">
<polygon fill="#ffd700" points="500.0,310.0 507.5,300.0 513.0,290.5 520.0,298.8 545.0,298.8 553.8,288.0 562.5,287.5 566.2,285.0 568.8,292.5 575.0,297.5 570.0,298.8 563.8,306.2 566.2,312.5 575.0,313.8 585.0,305.0 586.2,298.8 587.5,291.2 592.5,285.0 598.8,285.0 607.5,291.2 607.5,298.8 613.8,302.5 620.0,296.2 625.0,292.5 623.8,285.0 627.5,275.0 623.8,267.5 628.8,262.5 638.8,262.5 643.8,258.0 645.0,260.0 645.0,275.0 649.2,286.2 643.8,290.0 643.8,350.0 606.2,350.0 606.2,332.5 600.0,327.5 593.8,320.0 586.2,321.2 577.5,317.5 576.2,313.8 568.8,315.0 568.8,328.8 545.0,328.8 541.2,333.8 546.2,340.0 550.0,350.0 500.0,350.0"/>
<polygon fill="#ffffff" points="555.0,293.0 560.0,288.0 564.5,293.0 560.0,298.0"/>
<polygon fill="#ffffff" points="500.0,315.0 503.8,312.5 508.8,320.0 503.8,325.0 500.0,322.5"/>
<polygon fill="#ffffff" points="517.5,320.0 523.8,313.8 530.0,320.0 523.8,327.5"/>
<polygon fill="#ffffff" points="500.0,347.5 510.0,342.5 518.8,346.2 525.0,350.0 500.0,350.0"/>
<polygon fill="#deb887" points="526.2,336.2 531.2,332.5 537.5,333.8 537.5,340.0 543.8,346.2 546.2,350.0 527.5,350.0 526.2,342.5"/>
<polygon fill="#deb887" points="620.0,350.0 620.0,335.0 623.8,317.5 625.0,310.0 630.0,300.0 637.5,293.8 643.8,293.0 643.8,350.0"/>
<polygon fill="#ff8c00" points="627.5,335.0 632.5,330.0 631.2,317.5 635.0,310.0 637.5,302.5 640.0,302.5 640.0,317.5 643.8,327.5 643.8,350.0 635.0,350.0 631.2,342.5"/>
<polygon fill="#deb887" points="656.2,298.8 661.2,298.8 661.2,305.0 656.2,305.0"/>
<polygon fill="#ff8c00" points="656.2,301.2 660.0,301.2 660.0,307.5 656.2,307.5"/>
<polygon fill="#ff0000" points="652.5,308.8 656.2,307.5 657.5,304.5 660.5,308.0 657.0,310.0 656.2,313.8 652.5,313.8"/>
<polygon fill="#ffd700" points="593.8,263.8 596.2,262.5 596.2,266.2 594.5,267.0"/>
<polygon fill="#ffd700" points="567.0,313.8 578.0,313.8 585.5,309.5 589.5,318.0 585.0,322.5 580.0,322.5 576.2,318.0 567.0,328.8 560.0,328.8 561.2,320.0"/>
</g>
<clipPath id="c23"><rect x="100" y="350" width="200" height="150"/></clipPath>
<g clip-path="url(#c23)">
<polygon fill="#ffd700" points="117.5,350.0 202.5,350.0 201.2,357.5 195.0,358.8 187.5,366.2 180.0,371.2 175.0,376.2 180.0,382.5 175.0,390.0 168.8,396.2 162.5,390.0 146.2,387.5 142.5,391.2 141.2,388.8 148.8,380.0 145.0,375.0 137.5,372.5 127.5,371.2 126.2,365.0 122.5,360.0"/>
<polygon fill="#deb887" points="122.5,350.0 187.5,350.0 185.0,357.5 177.5,362.5 172.5,370.0 167.5,375.0 153.8,375.0 147.5,370.0 138.8,367.5 132.5,363.8 125.0,358.8"/>
<polygon fill="#ff8c00" points="138.8,350.0 183.8,350.0 180.0,358.8 172.5,363.8 165.0,365.0 162.5,368.8 157.5,367.5 147.5,366.2 143.8,360.0 141.2,356.2"/>
<polygon fill="#ff0000" points="140.0,350.0 182.5,350.0 180.0,356.2 172.5,361.2 162.5,362.5 150.0,362.0 142.5,357.5"/>
<polygon fill="#deb887" points="148.8,357.5 151.8,353.8 155.5,358.0 151.8,362.0"/>
<polygon fill="#ff0000" points="158.8,367.0 160.8,364.5 162.5,367.0 160.8,369.5"/>
<polygon fill="#8b4513" points="153.8,350.0 182.5,350.0 181.2,355.0 175.0,360.0 163.8,361.2 158.8,357.5"/>
<polygon fill="#ff0000" points="163.8,372.5 165.5,371.2 165.5,373.8"/>
<polygon fill="#ffd700" points="182.5,382.5 191.2,377.5 197.5,377.5 201.2,387.5 195.0,383.8 186.2,386.2"/>
<polygon fill="#ffd700" points="183.8,405.0 187.5,397.5 191.2,393.0 196.2,398.8 197.5,402.5 187.5,403.0"/>
<polygon fill="#ffd700" points="203.8,441.2 211.2,441.2 207.0,445.8"/>
<polygon fill="#ffd700" points="157.5,462.5 165.0,461.2 173.8,448.8 176.2,447.0 179.5,450.0 172.5,456.2 165.0,465.0 166.2,470.0 157.5,470.0"/>
<polygon fill="#ffd700" points="177.5,472.0 186.2,466.2 190.0,470.0 193.8,468.8 193.0,473.8 186.2,480.5"/>
<polygon fill="#ffd700" points="241.2,462.5 246.2,462.5 248.8,466.2 252.5,465.5 245.0,475.0 240.0,480.0 235.0,480.5 243.8,470.0"/>
<polygon fill="#ffd700" points="200.0,485.0 212.5,477.5 213.8,480.0 207.5,486.2 212.5,492.5 217.5,500.0 203.8,500.0"/>
<polygon fill="#ffd700" points="216.2,487.0 222.5,486.2 219.5,490.5"/>
<polygon fill="#ffd700" points="117.5,493.8 122.5,492.0 125.0,495.5 117.5,496.2"/>
<polygon fill="#ffd700" points="158.8,492.5 166.2,492.5 172.5,500.0 165.0,500.0"/>
<polygon fill="#ffd700" points="252.5,446.2 256.2,441.2 257.5,433.8 261.2,427.5 262.5,423.8 264.5,432.5 267.0,436.2 272.5,441.2 267.5,450.0 262.5,455.0 257.5,453.8"/>
<polygon fill="#deb887" points="255.0,446.2 257.5,436.2 261.2,432.5 265.0,433.8 265.5,440.0 263.8,448.8 260.0,453.0 256.2,451.2"/>
<polygon fill="#ffd700" points="266.2,436.2 272.5,441.2 280.0,442.5 286.2,437.5 286.2,433.8 300.0,428.8 300.0,475.0 287.5,477.5 278.8,482.5 278.8,491.2 272.5,486.2 272.5,470.0 267.5,466.2 270.0,458.8 277.5,461.2 280.0,455.0 272.5,448.8 267.5,445.0"/>
</g>
<clipPath id="c24"><rect x="300" y="350" width="200" height="150"/></clipPath>
<g clip-path="url(#c24)">
<polygon fill="#ffd700" points="300.0,425.0 305.0,422.5 305.0,413.8 315.0,412.5 322.5,418.8 326.2,412.5 337.5,403.8 337.5,398.8 333.8,393.8 336.2,387.5 341.2,391.2 343.8,380.0 348.8,383.8 353.8,390.0 358.8,387.5 362.5,385.0 367.5,380.0 371.2,375.0 367.5,371.2 372.5,365.0 376.2,370.0 381.2,362.5 381.2,353.8 387.5,350.0 407.5,350.0 411.2,353.8 413.8,363.8 420.0,375.0 422.5,377.5 427.5,393.8 432.5,397.5 442.5,397.5 445.0,403.8 451.2,411.2 457.5,403.8 462.5,411.2 472.5,410.0 477.5,398.8 492.5,395.0 492.5,383.8 500.0,381.2 500.0,500.0 490.0,500.0 485.0,496.2 475.0,495.0 465.0,487.5 455.0,486.2 447.5,493.8 447.5,500.0 442.5,500.0 438.8,486.2 438.8,477.5 417.5,476.2 412.5,480.0 398.8,478.8 394.5,476.2 394.5,471.2 402.5,470.0 403.8,462.5 413.8,461.2 415.0,451.2 422.5,450.0 430.0,446.2 437.5,441.2 441.2,446.2 447.5,445.0 447.5,436.2 452.5,430.0 445.0,422.5 442.5,420.0 436.2,425.0 425.0,426.2 421.2,433.8 416.2,431.2 407.5,422.5 403.8,425.0 395.0,435.0 375.0,436.2 363.8,441.2 358.8,445.0 353.8,457.5 346.2,465.0 342.5,462.5 337.5,470.0 337.5,475.0 330.0,482.5 330.0,491.2 315.0,492.5 311.2,496.2 305.0,493.8 300.0,497.5"/>
<polygon fill="#ffffff" points="335.0,393.8 338.8,387.5 342.5,393.8 338.8,398.8"/>
<polygon fill="#ffffff" points="368.8,371.2 372.5,366.2 376.2,372.0 372.5,377.0"/>
<polygon fill="#ffffff" points="402.5,391.2 408.8,383.8 415.0,382.5 422.5,390.0 423.8,396.2 417.5,402.5 407.5,402.5 402.5,397.5"/>
<polygon fill="#ffffff" points="427.5,403.8 432.5,398.8 437.0,403.8 432.5,408.8"/>
<polygon fill="#ffffff" points="388.8,412.5 393.2,407.0 398.0,412.5 393.2,418.0"/>
<polygon fill="#ffffff" points="419.5,412.5 425.0,407.0 431.2,412.5 425.0,418.8"/>
<polygon fill="#ffffff" points="376.2,422.5 381.2,417.5 386.2,422.5 381.2,427.0"/>
<polygon fill="#ffffff" points="300.0,430.0 305.0,426.2 308.8,431.2 305.0,437.5 300.0,436.2"/>
<polygon fill="#ffffff" points="308.8,435.0 317.5,420.0 325.0,422.5 321.2,432.5 321.2,441.2 313.8,441.2"/>
<polygon fill="#ffffff" points="420.0,467.5 425.0,457.5 428.8,456.2 432.5,462.5 430.0,468.8 425.0,472.5"/>
<polygon fill="#ffffff" points="474.5,476.2 478.8,470.5 483.0,476.2 478.8,482.0"/>
<polygon fill="#ffd700" points="326.2,352.5 337.5,352.5 332.5,357.5"/>
<polygon fill="#ffd700" points="346.2,350.0 351.2,350.0 350.0,352.5"/>
<polygon fill="#ffd700" points="420.0,350.0 425.0,350.0 423.8,352.0"/>
<polygon fill="#ffd700" points="326.2,383.8 328.8,386.2 327.0,388.8"/>
<polygon fill="#ffd700" points="311.2,397.5 316.2,393.8 321.2,396.2 316.2,400.0 312.5,403.0"/>
<polygon fill="#deb887" points="313.8,397.0 317.0,395.0 317.0,398.8"/>
<polygon fill="#ffd700" points="493.8,378.8 497.5,367.5 500.0,366.2 500.0,381.2"/>
<polygon fill="#deb887" points="381.2,373.8 385.0,367.5 388.8,372.5 390.0,380.0 393.8,387.5 397.0,391.2 396.2,396.2 392.0,397.0 390.0,390.0 386.2,383.8 382.0,380.0"/>
<polygon fill="#deb887" points="500.0,396.2 492.5,403.8 487.5,406.2 486.2,417.5 480.0,418.8 479.5,425.0 485.0,430.0 486.2,436.2 492.5,443.8 486.2,445.0 480.0,442.5 481.2,448.8 487.5,452.5 495.0,460.0 500.0,455.0"/>
</g>
<clipPath id="c25"><rect x="500" y="350" width="200" height="150"/></clipPath>
<g clip-path="url(#c25)">
<polygon fill="#ffd700" points="500.0,350.0 553.8,350.0 553.8,357.5 558.8,368.8 562.5,377.5 567.5,382.5 575.0,387.5 586.2,387.5 592.5,380.0 600.0,375.0 607.5,372.5 610.0,365.0 607.5,355.0 610.0,350.0 646.2,350.0 642.5,365.0 640.0,375.0 636.2,385.0 630.0,395.0 625.0,398.8 621.2,391.2 617.5,387.5 611.2,391.2 603.8,397.5 600.0,415.0 591.2,423.8 586.2,432.5 575.0,446.2 563.8,457.5 555.0,470.0 551.2,480.0 545.0,490.0 540.0,500.0 500.0,500.0"/>
<polygon fill="#ffffff" points="500.0,357.5 507.5,355.0 511.2,361.2 505.0,366.2 500.0,365.0"/>
<polygon fill="#ffffff" points="571.2,417.0 576.2,412.5 583.8,412.5 588.0,417.0 582.5,422.5 576.2,422.5"/>
<polygon fill="#deb887" points="500.0,367.5 510.0,365.0 515.0,357.5 523.8,356.2 527.5,350.0 548.8,350.0 548.8,360.0 553.8,368.8 558.8,380.0 563.8,385.0 568.8,392.5 575.0,397.5 585.0,397.5 588.8,392.5 596.2,392.5 597.0,410.0 598.8,415.0 593.8,420.0 587.5,417.5 585.0,411.2 575.0,410.0 572.5,403.8 567.5,400.0 560.0,408.8 550.0,415.0 543.8,421.2 537.5,425.0 535.0,432.5 531.2,445.0 530.0,455.0 527.5,467.5 521.2,470.0 515.0,467.5 513.8,475.0 518.8,482.5 523.8,490.0 521.2,497.5 515.0,500.0 500.0,500.0"/>
<polygon fill="#ffd700" points="500.0,471.2 505.0,470.0 512.5,476.2 512.5,485.0 507.5,490.0 500.0,491.2"/>
<polygon fill="#ffd700" points="500.0,456.2 503.8,460.0 500.0,465.0"/>
<polygon fill="#ffd700" points="500.0,401.2 503.0,406.2 500.0,411.2"/>
<polygon fill="#ffd700" points="508.8,488.8 512.5,483.8 516.2,488.8 512.5,495.0"/>
<polygon fill="#ffffff" points="521.2,472.5 527.5,470.0 529.5,472.5 523.8,476.2"/>
<polygon fill="#ffffff" points="545.0,472.5 550.0,468.8 553.8,472.5 552.5,480.0 548.8,481.2"/>
<polygon fill="#deb887" points="542.5,437.5 546.2,436.2 550.0,440.0 546.2,442.0"/>
<polygon fill="#deb887" points="541.2,465.0 545.0,463.8 546.2,467.5 542.5,468.8"/>
<polygon fill="#deb887" points="617.5,350.0 640.0,350.0 638.8,362.5 635.0,373.8 628.8,375.0 626.2,381.2 622.5,380.0 617.5,375.0 616.2,363.8 618.8,357.5"/>
<polygon fill="#ff8c00" points="636.2,350.0 639.5,350.0 638.8,361.2 637.0,360.0"/>
<polygon fill="#ff8c00" points="635.0,371.2 637.0,371.2 636.2,375.0"/>
<polygon fill="#ff0000" points="621.8,380.5 623.2,380.5 623.8,385.0 622.2,383.8"/>
<polygon fill="#deb887" points="625.0,385.0 628.8,385.0 630.0,388.8 627.5,391.2 625.0,390.0"/>
<polygon fill="#ff8c00" points="535.0,367.5 542.5,367.5 552.5,381.2 558.8,391.2 553.8,398.8 551.2,407.5 545.0,411.2 537.5,417.5 532.5,425.0 530.0,432.5 525.0,440.0 518.8,438.8 515.0,432.5 510.0,426.2 512.5,418.8 516.2,412.5 517.5,401.2 523.8,393.8 527.5,388.8 536.2,380.0 537.5,373.8"/>
<polygon fill="#deb887" points="535.0,411.2 540.0,407.5 543.8,410.0 538.8,415.5"/>
<polygon fill="#ff0000" points="526.2,408.8 528.8,411.2 532.5,410.0 530.0,416.2"/>
</g>
<clipPath id="c26"><rect x="100" y="500" width="200" height="50"/></clipPath>
<g clip-path="url(#c26)">
<polygon fill="#ffd700" points="158.0,492.0 165.5,492.5 172.5,501.2 170.0,504.5 165.5,497.5 159.5,495.0"/>
<polygon fill="#ffd700" points="123.0,510.0 129.5,510.0 133.8,515.5 133.0,518.8 129.5,514.5 127.0,517.5"/>
<polygon fill="#ffd700" points="182.5,501.2 200.0,501.2 202.5,497.5 200.0,487.5 205.0,481.2 212.5,477.0 213.8,479.5 208.0,486.2 213.0,493.0 218.8,502.5 217.5,505.0 212.0,500.0 206.2,505.5 202.5,502.5 198.8,508.8 198.8,516.2 202.0,520.5 196.2,521.2 195.0,523.8 186.2,510.0"/>
<polygon fill="#ffd700" points="198.8,530.0 201.2,530.0 206.2,535.5 203.8,535.5"/>
<polygon fill="#ffd700" points="288.0,510.5 291.8,506.2 295.5,510.5 291.8,515.0"/>
<polygon fill="#deb887" points="290.0,510.5 291.8,508.2 293.8,510.5 291.8,512.5"/>
</g>
<clipPath id="c27"><rect x="300" y="500" width="200" height="50"/></clipPath>
<g clip-path="url(#c27)">
<polygon fill="#ffd700" points="442.0,498.8 448.0,498.8 445.0,501.8"/>
<polygon fill="#ffd700" points="488.8,498.8 500.0,498.8 500.0,506.2 493.8,502.5"/>
<polygon fill="#ffd700" points="497.5,544.5 500.0,541.2 500.0,547.0"/>
</g>
<clipPath id="c28"><rect x="500" y="500" width="200" height="50"/></clipPath>
<g clip-path="url(#c28)">
<polygon fill="#ffd700" points="500.0,498.8 540.5,498.8 535.0,508.8 530.0,517.5 525.0,525.0 522.5,528.0 517.5,528.0 517.5,522.5 513.8,516.2 508.8,510.0 503.8,503.8 500.0,502.5"/>
<polygon fill="#deb887" points="517.5,502.5 525.0,500.0 527.5,506.2 522.5,510.0"/>
<polygon fill="#deb887" points="526.2,510.0 530.0,508.8 531.2,513.8 527.5,516.2"/>
<polygon fill="#deb887" points="518.8,517.0 523.8,515.0 525.0,521.2 521.2,522.5"/>
<polygon fill="#ff8c00" points="523.8,520.5 525.5,520.5 525.0,523.0"/>
<polygon fill="#ffd700" points="500.0,543.8 502.5,545.0 500.0,547.0"/>
<polygon fill="#ffd700" points="511.2,547.0 513.8,543.0 518.0,543.0 517.0,547.0"/>
</g>
<clipPath id="c29"><rect x="110" y="285" width="100" height="67"/></clipPath>
<g clip-path="url(#c29)">
<polygon fill="#ff8c00" points="121.2,318.1 125.0,313.8 130.0,313.1 131.9,316.2 138.8,311.9 141.2,315.6 147.5,310.6 147.5,305.0 151.2,303.8 160.0,298.8 168.8,294.4 172.5,291.9 175.0,297.5 180.0,300.0 185.0,303.8 190.0,307.5 192.5,312.5 191.2,318.1 180.0,320.6 181.9,322.5 185.0,328.8 190.0,328.8 192.5,338.8 193.8,347.5 190.0,352.5 187.5,360.0 141.2,360.0 140.0,353.1 130.0,350.0 126.2,345.0 123.8,332.5 123.1,322.5"/>
<polygon fill="#deb887" points="173.8,308.8 180.0,305.0 185.0,306.2 190.0,315.0 180.0,318.8 176.2,317.5"/>
<polygon fill="#deb887" points="165.0,313.1 168.8,309.4 172.5,313.1 168.8,316.9"/>
<polygon fill="#deb887" points="130.0,327.5 135.0,325.0 137.5,328.8 141.2,335.0 138.8,340.0 135.0,341.2 131.2,335.0 127.5,332.5"/>
<polygon fill="#deb887" points="145.0,335.0 152.5,333.1 160.0,335.0 162.5,340.0 157.5,343.8 156.2,347.5 151.2,350.0 146.2,348.8 146.2,342.5 143.1,340.0"/>
<polygon fill="#ffd700" points="123.8,325.0 126.9,321.2 130.0,325.0 126.9,330.0"/>
<polygon fill="#ffd700" points="181.2,323.1 185.0,321.2 190.0,323.1 185.0,325.0"/>
<polygon fill="#ff0000" points="155.0,308.8 160.0,300.0 165.0,298.8 168.8,295.0 167.5,303.8 170.0,308.8 165.0,312.5 168.8,317.5 172.5,315.0 175.0,320.0 176.2,326.2 177.5,337.5 180.0,341.2 185.0,342.5 187.5,332.5 190.0,332.5 190.0,340.0 185.0,345.0 182.5,350.0 180.0,355.0 177.5,360.0 140.0,360.0 141.2,353.1 146.2,350.0 151.2,351.2 157.5,347.5 162.5,340.0 160.0,333.8 152.5,332.5 151.2,326.2 155.0,322.5 151.2,317.5 152.5,312.5"/>
<polygon fill="#ff0000" points="135.0,322.5 141.2,327.5 136.9,332.5 141.9,337.5 140.0,342.5 135.0,345.0 126.2,346.9 126.2,335.0 132.5,340.0 135.0,335.0 132.5,330.0"/>
<polygon fill="#ff0000" points="185.0,288.1 196.2,288.1 190.6,294.4"/>
<polygon fill="#ff0000" points="175.0,301.2 180.0,303.8 185.0,303.8 183.8,306.2 177.5,305.0"/>
<polygon fill="#ff0000" points="187.5,315.0 191.2,313.8 190.0,317.5"/>
<polygon fill="#ff0000" points="130.0,316.2 131.9,318.1 130.6,320.0 128.8,318.8"/>
<polygon fill="#ff0000" points="147.5,305.0 150.0,306.9 148.1,308.8"/>
<polygon fill="#8b4513" points="153.8,328.8 162.5,331.2 165.0,326.2 163.8,320.0 168.8,318.1 172.5,316.2 172.5,323.8 171.2,328.8 175.0,335.0 178.1,340.0 182.5,342.5 186.2,337.5 186.2,332.5 189.4,332.5 189.4,338.8 185.0,343.8 181.9,347.5 181.2,352.5 177.5,355.0 170.0,355.0 160.0,356.2 152.5,360.0 145.0,360.0 147.5,355.0 153.8,352.5 160.0,347.5 165.0,341.2 163.8,335.0 157.5,333.8"/>
<polygon fill="#8b4513" points="134.4,322.5 141.2,318.1 144.4,318.8 140.0,322.5 136.2,323.8"/>
<polygon fill="#8b4513" points="165.0,298.8 168.1,295.6 168.1,303.8 165.6,307.5"/>
<polygon fill="#8b4513" points="175.6,299.4 178.8,301.9 177.5,303.1"/>
<polygon fill="#8b4513" points="126.9,343.1 128.8,342.5 129.4,346.2 126.9,346.9"/>
</g>
<clipPath id="c30"><rect x="110" y="352" width="100" height="53"/></clipPath>
<g clip-path="url(#c30)">
<polygon fill="#ffffff" points="110.0,351.2 210.0,351.2 210.0,405.0 110.0,405.0"/>
<polygon fill="#ffd700" points="116.2,341.2 117.5,345.0 118.8,355.0 122.5,358.8 127.5,367.5 127.5,372.5 136.2,373.1 140.0,376.9 145.0,378.1 147.5,382.5 143.8,386.2 141.2,391.2 143.8,391.9 147.5,387.5 162.5,388.1 168.8,396.9 173.8,391.2 178.8,385.0 181.2,382.5 175.0,380.0 172.5,377.5 177.5,372.5 185.0,367.5 187.5,366.2 196.2,360.0 197.5,355.0 202.5,352.5 202.5,342.5 206.2,338.1 202.5,333.8 201.2,330.0 116.2,330.0"/>
<polygon fill="#deb887" points="121.9,345.0 122.5,355.0 126.2,358.1 133.8,366.2 141.2,367.5 146.2,372.5 151.2,376.2 160.0,376.9 165.0,373.8 170.0,370.0 177.5,366.2 185.0,360.0 190.0,355.0 195.0,347.5 196.2,342.5 197.5,330.0 121.9,330.0"/>
<polygon fill="#ff8c00" points="124.4,344.4 126.2,348.1 130.0,350.0 139.4,351.9 141.2,358.8 146.2,365.6 158.8,367.5 161.2,368.8 163.1,363.8 175.0,363.1 181.2,359.4 185.0,353.8 190.0,344.4"/>
<polygon fill="#ff0000" points="139.4,352.2 185.0,351.2 183.1,355.0 180.0,358.8 175.0,362.5 165.0,362.8 161.9,360.0 160.0,363.8 162.5,367.5 160.0,368.8 158.1,366.2 155.0,363.8 147.5,363.1 142.5,358.1"/>
<polygon fill="#deb887" points="149.4,357.5 152.5,354.4 155.6,357.5 152.5,361.2"/>
<polygon fill="#ff8c00" points="146.2,363.1 152.5,361.5 158.8,360.0 161.2,360.6 159.4,364.4 158.1,366.2 155.0,364.0 147.5,365.0"/>
<polygon fill="#8b4513" points="151.2,351.2 182.5,351.2 180.6,355.0 175.0,361.2 165.0,361.2 162.5,358.1 157.5,355.0 153.8,354.4 147.5,356.9 145.6,356.9 147.5,354.4"/>
<polygon fill="#ffd700" points="182.5,383.1 187.5,381.9 191.2,377.5 197.5,377.5 198.8,382.5 201.9,387.5 199.4,386.9 195.0,381.9 192.5,381.2 187.5,385.0 185.0,386.9"/>
<polygon fill="#ffd700" points="186.2,399.4 190.0,393.1 195.0,398.8 197.5,402.5 191.2,401.9 187.5,405.0 185.0,405.0"/>
</g>
</g>
<g stroke="#a6a6a6" stroke-width="1" stroke-dasharray="1.4 4.9" shape-rendering="crispEdges" fill="none">
<line x1="145.5" y1="54" x2="145.5" y2="547"/>
<line x1="188.5" y1="54" x2="188.5" y2="547"/>
<line x1="230.5" y1="54" x2="230.5" y2="547"/>
<line x1="272.5" y1="54" x2="272.5" y2="547"/>
<line x1="315.5" y1="54" x2="315.5" y2="547"/>
<line x1="357.5" y1="54" x2="357.5" y2="547"/>
<line x1="400.5" y1="54" x2="400.5" y2="547"/>
<line x1="442.5" y1="54" x2="442.5" y2="547"/>
<line x1="484.5" y1="54" x2="484.5" y2="547"/>
<line x1="527.5" y1="54" x2="527.5" y2="547"/>
<line x1="569.5" y1="54" x2="569.5" y2="547"/>
<line x1="611.5" y1="54" x2="611.5" y2="547"/>
<line x1="654.5" y1="54" x2="654.5" y2="547"/>
<line x1="105" y1="102.5" x2="696" y2="102.5" stroke-dasharray="1.9 4.6"/>
<line x1="105" y1="152.5" x2="696" y2="152.5" stroke-dasharray="1.9 4.6"/>
<line x1="105" y1="202.5" x2="696" y2="202.5" stroke-dasharray="1.9 4.6"/>
<line x1="105" y1="251.5" x2="696" y2="251.5" stroke-dasharray="1.9 4.6"/>
<line x1="105" y1="300.5" x2="696" y2="300.5" stroke-dasharray="1.9 4.6"/>
<line x1="105" y1="350.5" x2="696" y2="350.5" stroke-dasharray="1.9 4.6"/>
<line x1="105" y1="400.5" x2="696" y2="400.5" stroke-dasharray="1.9 4.6"/>
<line x1="105" y1="449.5" x2="696" y2="449.5" stroke-dasharray="1.9 4.6"/>
<line x1="105" y1="498.5" x2="696" y2="498.5" stroke-dasharray="1.9 4.6"/>
</g>
<g clip-path="url(#pc)" stroke="#000" stroke-width="1" fill="none" stroke-linejoin="round" shape-rendering="crispEdges">
<g clip-path="url(#c0)">
<polyline points="149.4,53.8 150.0,61.2 151.0,65.0 150.6,70.0 147.5,74.4 145.6,80.0 143.1,83.8 140.0,86.9 137.5,91.2 136.2,96.2 136.2,102.5 137.5,107.5 138.1,111.2 141.2,111.2 142.5,113.8 146.2,115.0 151.2,116.9 155.0,113.8 158.8,110.6 163.8,108.8 167.5,110.6 170.0,111.2 171.2,107.5 175.0,106.9 178.1,105.6 180.0,108.8 181.9,112.5 183.8,108.8 187.5,110.0 190.6,112.5 191.9,115.0 195.0,115.0 196.9,118.1 197.5,125.0 200.0,130.0"/>
<polyline points="138.1,111.2 137.5,115.0 135.0,120.0 133.8,125.0 133.1,130.0"/>
</g>
<g clip-path="url(#c1)">
<polyline points="135.6,123.8 136.9,131.2 138.1,136.2 136.2,138.8 135.6,143.8 134.4,147.5 132.5,151.2 133.1,160.0 132.5,167.5 134.4,171.9 133.1,177.5 131.9,183.8 130.0,188.8 128.8,193.8 126.2,200.0 125.6,202.5"/>
</g>
<g clip-path="url(#c2)">
<polyline points="198.8,125.0 200.0,127.5 201.9,132.5 203.1,141.2 205.0,150.0 208.8,155.0 210.6,161.2 214.4,167.5 217.5,173.8 218.8,175.0 221.9,180.0 225.0,181.2 230.0,181.9 233.1,182.5 236.2,178.8 240.0,176.5 245.0,176.2 249.4,177.5 252.5,181.2 256.2,185.0 260.0,188.8 263.8,190.0 267.5,188.8 271.2,186.9 275.0,187.5 281.2,188.1 287.5,187.5 293.1,187.5 296.2,189.4 300.0,189.4"/>
<polyline points="217.5,173.8 217.5,180.0 215.6,185.0 212.5,186.2 212.5,200.0 212.5,202.5"/>
</g>
<g clip-path="url(#c3)">
<polyline points="300.0,191.2 310.0,193.0 316.2,192.5 322.5,195.0 332.5,197.5 341.2,199.5 342.5,200.5"/>
<polyline points="417.5,201.2 418.0,190.0 417.5,180.0 418.8,172.5 417.5,167.5"/>
<polyline points="417.5,167.5 422.7,168.6 425.7,168.3 426.7,172.2 431.0,170.5 431.5,175.7 435.6,176.9 437.1,178.0 439.7,174.9 441.8,178.8 445.8,177.1 450.5,179.7 453.4,178.0 455.5,181.8 456.9,176.9 461.2,177.4 463.4,175.6 465.9,179.5 465.3,172.5 470.4,171.7 470.0,166.3 474.3,162.9 473.3,159.6 476.9,159.4 476.6,154.7 480.4,156.8 484.1,154.7 486.9,158.3 490.0,154.4 491.6,159.3 495.6,159.2 495.5,165.2 500.0,164.1"/>
</g>
<g clip-path="url(#c4)">
<polyline points="500.0,158.8 504.1,160.3 507.1,155.4 513.0,158.4 516.1,157.6 517.7,158.6 519.3,154.9 522.9,157.3 525.5,153.5 529.3,156.3 532.3,153.0 534.2,157.8 538.2,157.3 538.8,161.8 543.1,161.1 544.1,165.0 548.8,163.9 549.2,168.5 553.4,168.4 555.1,172.1 559.4,171.3 561.3,174.7 565.1,172.4 567.0,176.6"/>
<polyline points="567.5,175.0 573.8,170.0 582.5,165.0 587.5,160.0 592.5,155.0 600.0,153.8 612.5,150.0 630.0,150.5 646.2,151.2 647.5,145.0 650.0,136.2 652.5,125.0 656.2,120.0 662.5,112.5 660.0,108.8 650.0,106.2 636.2,101.2 640.0,98.8 633.8,90.0 643.8,96.2 653.8,95.0 662.5,98.8 660.0,87.5 656.2,86.2 661.2,81.2 667.5,85.0 666.2,78.8 672.5,85.0 683.8,82.5 678.8,98.8 676.2,91.2 672.5,87.5"/>
<polyline points="676.2,53.8 678.8,62.5 682.5,72.5 688.8,76.2 695.0,77.5"/>
<polyline points="692.5,58.8 695.0,56.2 695.0,60.0"/>
<polyline points="646.2,151.2 645.0,160.0 647.5,170.0 643.8,175.0 636.2,177.5 632.5,167.5 629.5,160.0 631.2,170.0 635.0,177.5 631.2,182.5 636.2,190.0 643.8,197.5 647.5,192.5 650.0,182.5 652.5,170.0 647.5,175.0 640.0,180.0 638.8,186.2 643.8,190.0"/>
<polyline points="632.5,138.8 640.0,136.2 647.5,133.8 635.0,141.2 632.5,138.8"/>
</g>
<g clip-path="url(#c5)">
<polyline points="103.8,330.0 107.4,328.8 106.6,323.9 110.7,323.1 109.7,318.9 113.9,316.4 110.7,312.0 116.2,312.0 116.1,307.7 119.9,307.4 121.6,304.3 125.2,305.8 127.5,302.2 131.7,303.7 131.8,298.9 136.1,299.0 136.1,294.9 141.0,298.4 145.3,295.5 148.6,296.5 150.6,292.7 155.0,295.0 158.8,292.8 162.6,292.6 162.1,287.1 167.4,288.7 169.5,284.9 172.4,283.6 171.2,279.5 175.3,279.4 176.6,275.8 180.4,277.1 182.0,274.0 185.9,275.6 186.4,271.0 190.1,270.5 190.0,266.3 196.7,268.2 199.6,264.4 202.2,269.1 207.0,269.1 210.6,270.6 213.0,268.9 214.7,271.9 219.0,271.7 224.2,272.9 224.9,267.4 230.0,267.5 232.8,266.7 235.4,267.0 236.5,263.0 242.2,263.9 244.1,264.2 242.9,267.9 246.9,269.1 249.8,272.2 253.0,267.6 257.3,270.1 259.8,266.6 263.4,266.8 263.8,262.2 268.4,264.3 269.5,260.2 269.1,264.6 273.7,266.5 271.6,270.3 277.1,267.2 280.2,271.4 284.2,267.9 285.9,273.0 290.5,270.4 291.9,275.1 297.3,274.6 299.6,278.9"/>
<polyline points="212.5,199.5 211.2,210.0 210.0,222.5 212.5,230.0 213.8,240.0 210.0,250.0 205.0,258.8 202.5,267.0"/>
<polyline points="125.0,199.5 122.5,203.8 123.0,212.5 120.0,217.5 113.8,218.8 110.0,221.2 106.2,228.8 103.8,231.2"/>
</g>
<g clip-path="url(#c6)">
<polyline points="341.2,199.5 350.0,205.0 362.5,207.5 375.0,210.0 387.5,212.0 397.5,213.8 402.5,215.0 406.2,211.2 410.0,208.8 415.0,205.0 417.5,203.8 420.0,199.5"/>
<polyline points="300.0,275.0 303.5,276.9 307.9,275.3 311.8,278.1 314.7,273.8 320.3,274.8 322.1,275.8 320.9,279.6 327.7,279.1 332.9,280.2 335.6,279.9 336.1,284.4 342.3,280.5 343.8,284.8 348.2,284.1 350.2,287.7 354.2,284.0 355.6,288.9 359.9,288.5 357.3,293.5 361.3,296.0 360.8,299.2 364.4,299.3 366.4,302.4 370.5,301.3 375.4,302.8 379.1,299.6 382.3,303.7 387.0,299.4 388.8,304.2 393.1,304.9 393.3,308.4 396.6,308.0 400.4,308.7 403.2,309.0 402.4,313.5 407.1,313.2 408.2,316.9 413.0,316.1 413.4,320.8 417.7,321.4 417.3,325.5 421.5,324.5 421.2,329.1 425.6,327.5 427.1,330.8 431.0,329.2 430.9,335.4 436.0,335.3 436.1,339.1 439.4,340.5 439.0,344.4 443.8,344.5 445.8,348.3 451.0,349.3"/>
</g>
<g clip-path="url(#c7)">
<polyline points="643.8,199.5 640.0,207.5 638.8,217.5 641.2,225.0 647.5,230.0 643.8,237.5 645.0,250.0 647.5,253.8 646.2,263.8 651.2,267.5 655.0,268.8 655.0,272.5 650.0,271.2 645.0,277.5 646.2,282.5 650.0,286.2 645.0,292.5 642.5,300.0 645.0,307.5 643.8,315.0 647.5,325.0 650.0,332.5 647.5,340.0 646.2,350.5"/>
<polyline points="652.5,310.0 653.8,300.0 657.5,293.8 662.5,292.5 664.5,296.2 662.5,305.0 660.0,315.0 655.0,325.0 651.2,331.2 648.8,330.0 650.0,320.0 652.5,310.0"/>
</g>
<g clip-path="url(#c8)">
<polyline points="449.5,349.5 449.0,352.4 451.6,354.6 449.4,357.9 455.1,358.6 454.9,363.9 458.7,363.8 459.5,366.8 462.7,368.8 461.3,373.0 466.1,373.9 466.2,378.8 471.7,378.3 471.9,383.1 475.0,384.4 473.8,388.1 477.9,388.0 479.1,391.8 483.5,388.8 485.9,392.8 490.2,390.4 492.2,394.4 498.0,393.1 500.3,394.4"/>
</g>
<g clip-path="url(#c9)">
<polyline points="500.0,393.8 504.7,396.3 509.9,393.4 512.7,396.8 516.5,395.3 518.2,394.1 521.0,394.0 522.9,398.4 526.5,394.0 530.3,396.3 532.9,393.3 536.7,395.8 539.0,394.8 538.4,399.1 543.0,396.1 546.6,398.0"/>
<polyline points="546.2,396.2 548.8,401.2 551.2,406.2 551.2,411.2 546.2,413.8 540.0,417.5 535.0,422.5 531.2,423.8 530.0,432.5 529.5,450.0 530.5,457.5 527.5,461.2 525.0,466.2 518.8,467.5 515.0,468.8 513.8,473.8 516.2,480.0 521.2,481.2 523.8,482.5 520.0,478.8 516.2,475.0 517.5,471.2 523.8,472.5 530.0,469.5 537.5,471.2 543.8,475.0 548.8,478.8 551.2,481.2"/>
<polyline points="646.2,349.5 642.5,362.5 640.0,372.5 636.2,382.5 632.5,392.5 629.5,397.5 625.0,390.0 623.8,385.0 625.0,395.0 630.0,401.2 632.5,402.5 628.8,408.8 622.5,412.5 610.0,420.0 600.0,427.5 587.5,438.8 575.0,450.0 563.8,461.2 556.2,472.5 550.0,482.5 543.8,492.5 540.0,500.5"/>
<polyline points="623.8,383.8 628.8,385.0 630.0,390.0 627.5,396.2"/>
</g>
<g clip-path="url(#c10)">
<polyline points="540.5,498.8 532.5,515.0 525.0,527.5 520.0,540.0 517.5,547.5"/>
</g>
</g>
<rect x="103" y="53" width="593" height="495" fill="none" stroke="#000" stroke-width="2" shape-rendering="crispEdges"/>
<g stroke="#000" stroke-width="1" shape-rendering="crispEdges">
<line x1="103.5" y1="549" x2="103.5" y2="552"/>
<line x1="145.5" y1="549" x2="145.5" y2="552"/>
<line x1="188.5" y1="549" x2="188.5" y2="552"/>
<line x1="230.5" y1="549" x2="230.5" y2="552"/>
<line x1="272.5" y1="549" x2="272.5" y2="552"/>
<line x1="315.5" y1="549" x2="315.5" y2="552"/>
<line x1="357.5" y1="549" x2="357.5" y2="552"/>
<line x1="400.5" y1="549" x2="400.5" y2="552"/>
<line x1="442.5" y1="549" x2="442.5" y2="552"/>
<line x1="484.5" y1="549" x2="484.5" y2="552"/>
<line x1="527.5" y1="549" x2="527.5" y2="552"/>
<line x1="569.5" y1="549" x2="569.5" y2="552"/>
<line x1="611.5" y1="549" x2="611.5" y2="552"/>
<line x1="654.5" y1="549" x2="654.5" y2="552"/>
<line x1="696.5" y1="549" x2="696.5" y2="552"/>
<line x1="99" y1="53.5" x2="102" y2="53.5"/>
<line x1="99" y1="102.5" x2="102" y2="102.5"/>
<line x1="99" y1="152.5" x2="102" y2="152.5"/>
<line x1="99" y1="202.5" x2="102" y2="202.5"/>
<line x1="99" y1="251.5" x2="102" y2="251.5"/>
<line x1="99" y1="300.5" x2="102" y2="300.5"/>
<line x1="99" y1="350.5" x2="102" y2="350.5"/>
<line x1="99" y1="400.5" x2="102" y2="400.5"/>
<line x1="99" y1="449.5" x2="102" y2="449.5"/>
<line x1="99" y1="498.5" x2="102" y2="498.5"/>
<line x1="99" y1="548.5" x2="102" y2="548.5"/>
</g>
<g font-family="Liberation Sans, sans-serif" fill="#000">
<text x="78" y="57" font-size="13" textLength="18" lengthAdjust="spacingAndGlyphs">25S</text>
<text x="68" y="106.5" font-size="13" textLength="28" lengthAdjust="spacingAndGlyphs">25.5S</text>
<text x="78" y="156" font-size="13" textLength="18" lengthAdjust="spacingAndGlyphs">26S</text>
<text x="68" y="205.5" font-size="13" textLength="28" lengthAdjust="spacingAndGlyphs">26.5S</text>
<text x="78" y="255" font-size="13" textLength="18" lengthAdjust="spacingAndGlyphs">27S</text>
<text x="68" y="304.5" font-size="13" textLength="28" lengthAdjust="spacingAndGlyphs">27.5S</text>
<text x="78" y="354" font-size="13" textLength="18" lengthAdjust="spacingAndGlyphs">28S</text>
<text x="68" y="403.5" font-size="13" textLength="28" lengthAdjust="spacingAndGlyphs">28.5S</text>
<text x="78" y="453" font-size="13" textLength="18" lengthAdjust="spacingAndGlyphs">29S</text>
<text x="68" y="502.5" font-size="13" textLength="28" lengthAdjust="spacingAndGlyphs">29.5S</text>
<text x="78" y="552" font-size="13" textLength="18" lengthAdjust="spacingAndGlyphs">30S</text>
<text x="93.25" y="562" font-size="13" textLength="19.5" lengthAdjust="spacingAndGlyphs">55W</text>
<text x="130.857" y="562" font-size="13" textLength="29" lengthAdjust="spacingAndGlyphs">54.5W</text>
<text x="177.964" y="562" font-size="13" textLength="19.5" lengthAdjust="spacingAndGlyphs">54W</text>
<text x="215.571" y="562" font-size="13" textLength="29" lengthAdjust="spacingAndGlyphs">53.5W</text>
<text x="262.679" y="562" font-size="13" textLength="19.5" lengthAdjust="spacingAndGlyphs">53W</text>
<text x="300.286" y="562" font-size="13" textLength="29" lengthAdjust="spacingAndGlyphs">52.5W</text>
<text x="347.393" y="562" font-size="13" textLength="19.5" lengthAdjust="spacingAndGlyphs">52W</text>
<text x="385" y="562" font-size="13" textLength="29" lengthAdjust="spacingAndGlyphs">51.5W</text>
<text x="432.107" y="562" font-size="13" textLength="19.5" lengthAdjust="spacingAndGlyphs">51W</text>
<text x="469.714" y="562" font-size="13" textLength="29" lengthAdjust="spacingAndGlyphs">50.5W</text>
<text x="516.821" y="562" font-size="13" textLength="19.5" lengthAdjust="spacingAndGlyphs">50W</text>
<text x="554.429" y="562" font-size="13" textLength="29" lengthAdjust="spacingAndGlyphs">49.5W</text>
<text x="601.536" y="562" font-size="13" textLength="19.5" lengthAdjust="spacingAndGlyphs">49W</text>
<text x="639.143" y="562" font-size="13" textLength="29" lengthAdjust="spacingAndGlyphs">48.5W</text>
<text x="686.25" y="562" font-size="13" textLength="19.5" lengthAdjust="spacingAndGlyphs">48W</text>
<text x="70.5" y="42" font-size="25.5" textLength="154.5" lengthAdjust="spacing">SALDAS/Noah</text>
<text x="239" y="42" font-size="25.5" textLength="38.5" lengthAdjust="spacing">Soil</text>
<text x="294" y="42" font-size="25.5" textLength="91" lengthAdjust="spacing">Moisture</text>
<text x="401" y="42" font-size="25.5" textLength="108.5" lengthAdjust="spacing">Percentile</text>
<text x="526" y="42" font-size="25.5" textLength="99" lengthAdjust="spacing">DEC2019</text>
<text x="641" y="42" font-size="25.5" textLength="29" lengthAdjust="spacing">lev</text>
<text x="685" y="42" font-size="25.5" textLength="15" lengthAdjust="spacing">=</text>
<text x="717" y="42" font-size="25.5" textLength="12" lengthAdjust="spacing">4</text>
<text x="4.4" y="598" font-size="11" textLength="82.6" lengthAdjust="spacingAndGlyphs">GrADS: COLA/IGES</text>
<text x="683.6" y="598" font-size="11" textLength="95.4" lengthAdjust="spacingAndGlyphs">2021-05-26-17:26</text>
<text x="760" y="234.7" font-size="12.5" textLength="16" lengthAdjust="spacingAndGlyphs">30</text>
<text x="760" y="270" font-size="12.5" textLength="16" lengthAdjust="spacingAndGlyphs">20</text>
<text x="760" y="305.3" font-size="12.5" textLength="16" lengthAdjust="spacingAndGlyphs">10</text>
<text x="760" y="340.7" font-size="12.5" textLength="7.5" lengthAdjust="spacingAndGlyphs">5</text>
<text x="760" y="376" font-size="12.5" textLength="7.5" lengthAdjust="spacingAndGlyphs">2</text>
</g>
<g shape-rendering="crispEdges" stroke="#000" stroke-width="1">
<rect x="741.5" y="230.5" width="14" height="35" fill="#ffd700"/>
<rect x="741.5" y="265.5" width="14" height="36" fill="#deb887"/>
<rect x="741.5" y="301.5" width="14" height="35" fill="#ff8c00"/>
<rect x="741.5" y="336.5" width="14" height="35" fill="#ff0000"/>
</g>
<g stroke="#000" stroke-width="1">
<polygon points="741.5,230.5 748.5,195 755.5,230.5" fill="#fff"/>
<polygon points="741.5,371.5 748.5,407 755.5,371.5" fill="#8b4513"/>
</g>
</svg>
</body></html>
